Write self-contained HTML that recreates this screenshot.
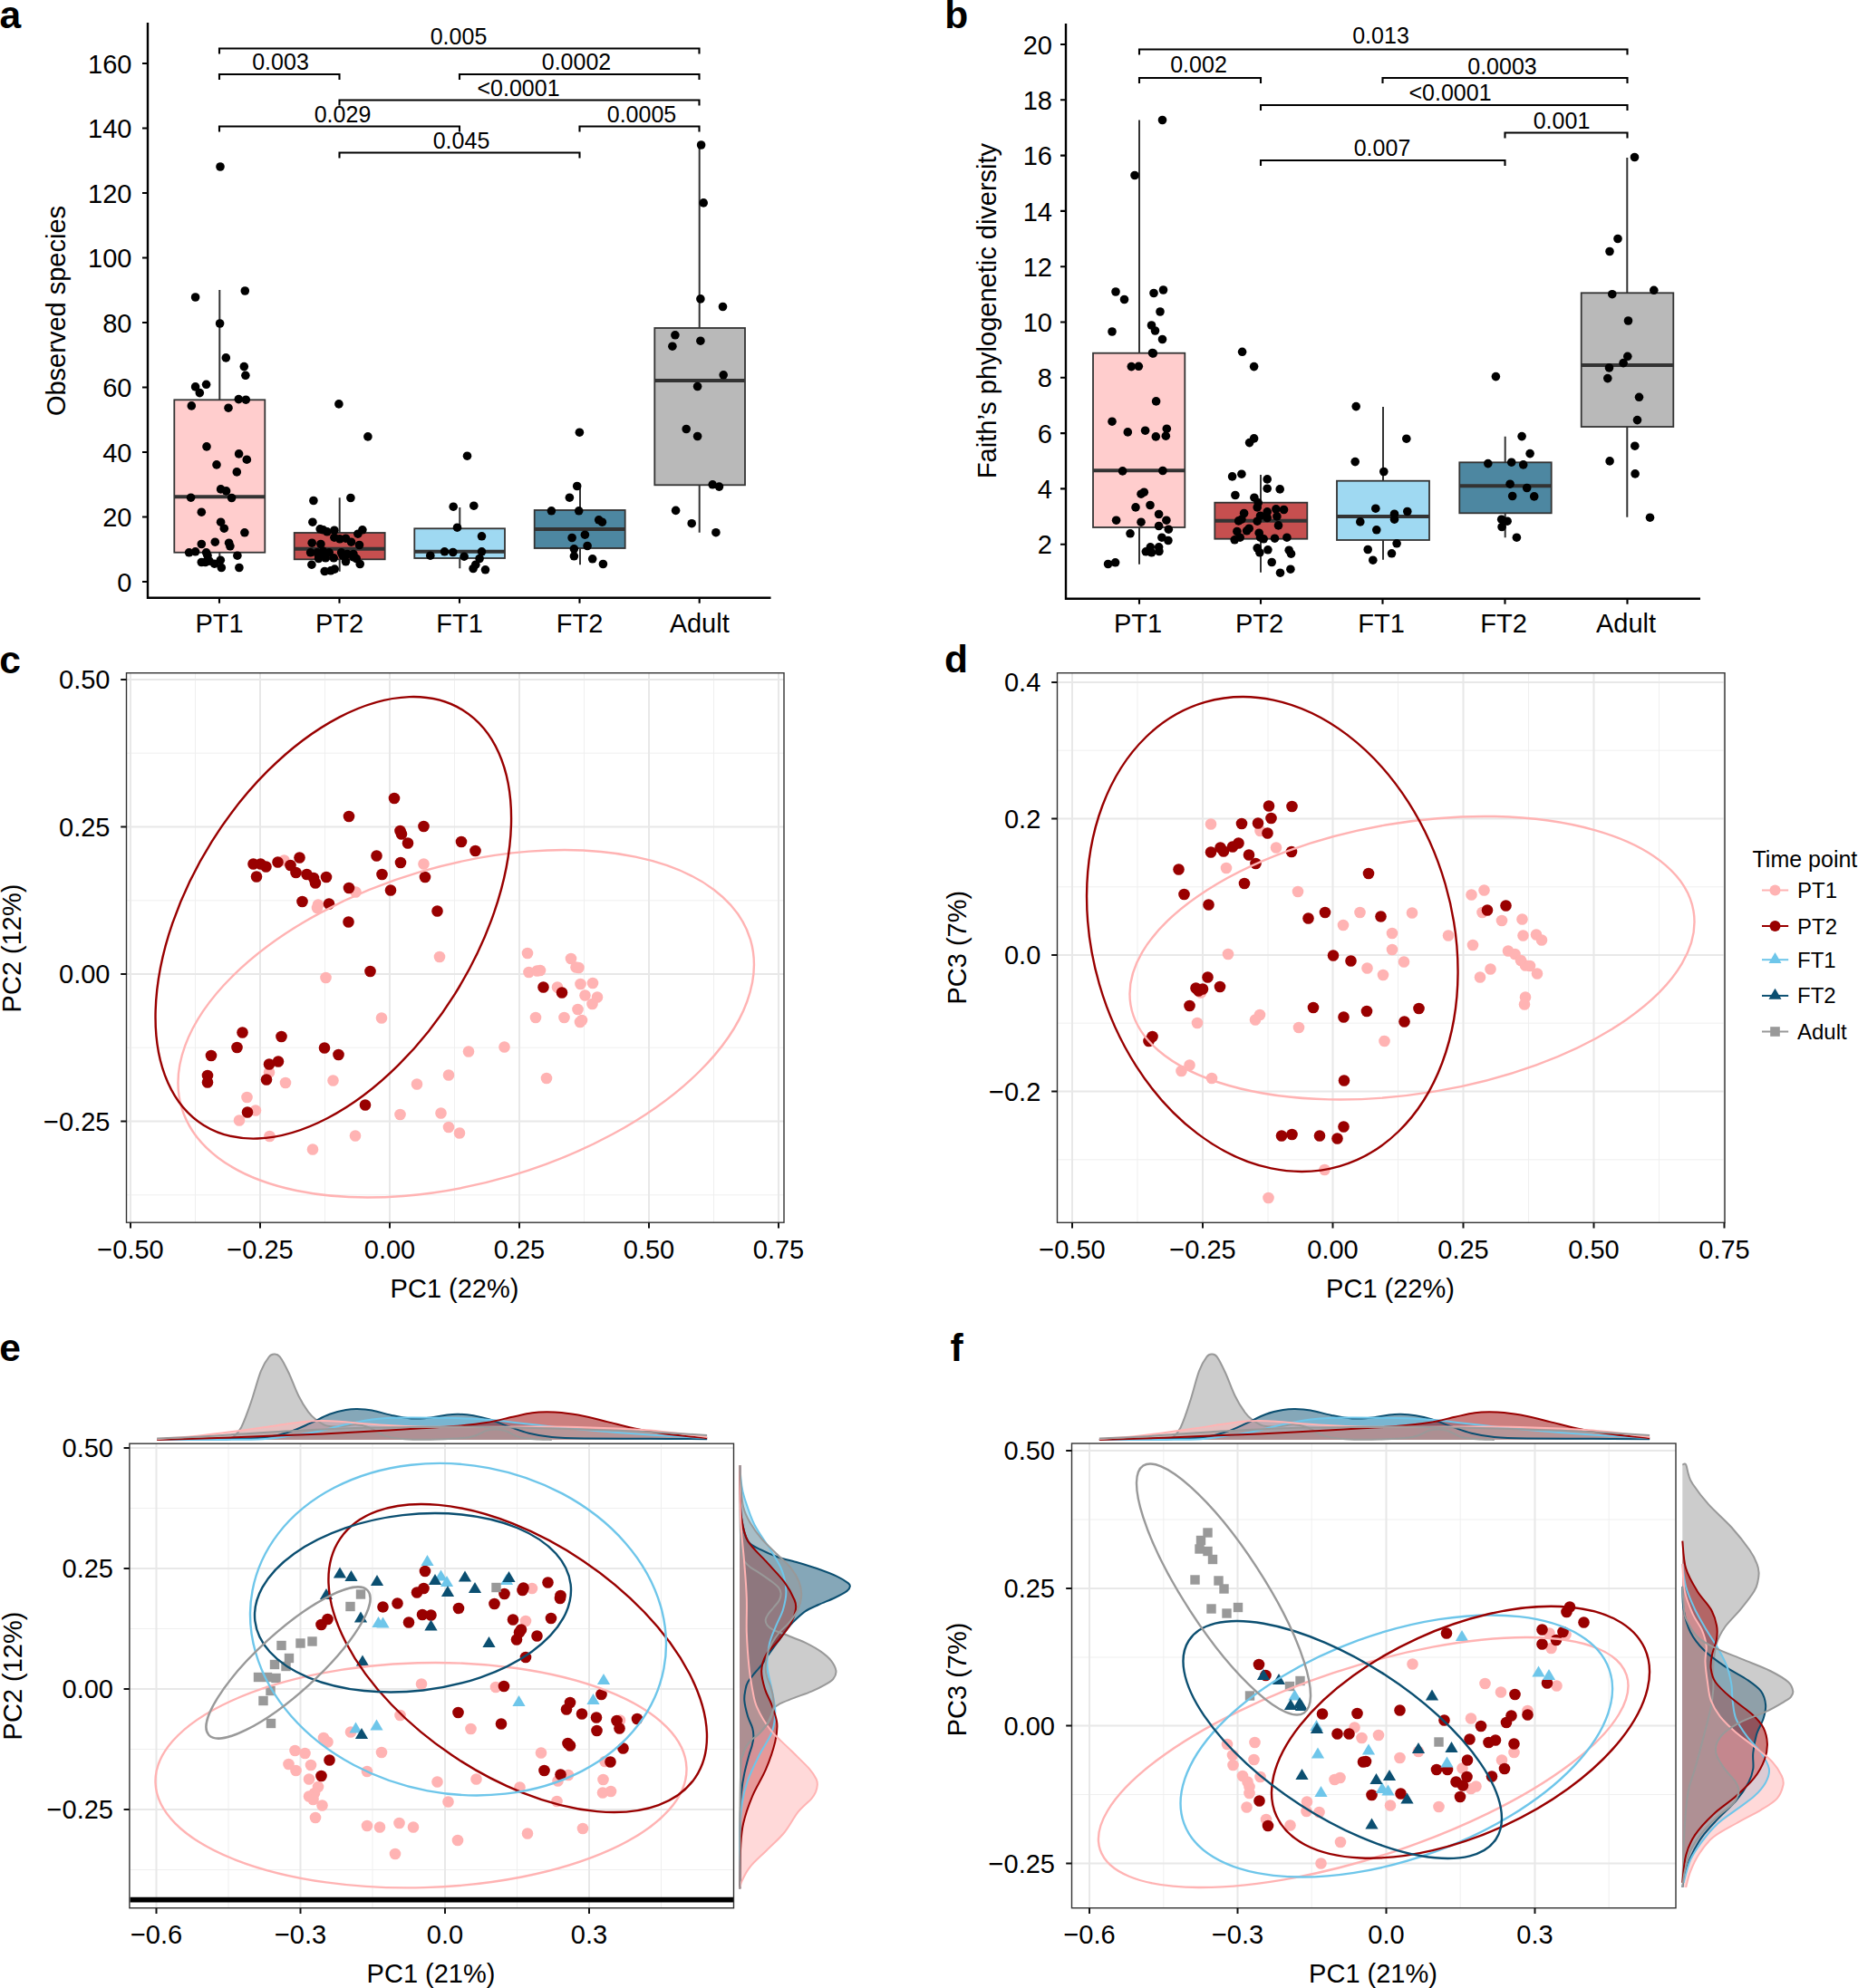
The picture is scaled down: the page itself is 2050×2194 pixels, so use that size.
<!DOCTYPE html>
<html lang="en"><head><meta charset="utf-8"><title>Figure</title>
<style>html,body{margin:0;padding:0;background:#fff}svg{display:block}text{font-family:"Liberation Sans", Arial, Helvetica, sans-serif}</style>
</head><body>
<svg width="2050" height="2194" viewBox="0 0 2050 2194" font-family='"Liberation Sans", Arial, Helvetica, sans-serif' fill="#000">
<text transform="translate(-0.5 31.3)" font-size="42.5" text-anchor="start" font-weight="bold">a</text>
<path d="M163 25V659.7H850.5" fill="none" stroke="#000" stroke-width="2.4"/>
<path d="M157 642H163M157 570.5H163M157 499H163M157 427.5H163M157 356H163M157 284.5H163M157 213H163M157 141.5H163M157 70H163M242 659.7V665.7M374.5 659.7V665.7M507 659.7V665.7M639.5 659.7V665.7M771.7 659.7V665.7" stroke="#000" stroke-width="2.1" fill="none"/>
<text transform="translate(145.5 652.6)" font-size="29" text-anchor="end">0</text>
<text transform="translate(145.5 581.1)" font-size="29" text-anchor="end">20</text>
<text transform="translate(145.5 509.6)" font-size="29" text-anchor="end">40</text>
<text transform="translate(145.5 438.1)" font-size="29" text-anchor="end">60</text>
<text transform="translate(145.5 366.6)" font-size="29" text-anchor="end">80</text>
<text transform="translate(145.5 295.1)" font-size="29" text-anchor="end">100</text>
<text transform="translate(145.5 223.6)" font-size="29" text-anchor="end">120</text>
<text transform="translate(145.5 152.1)" font-size="29" text-anchor="end">140</text>
<text transform="translate(145.5 80.6)" font-size="29" text-anchor="end">160</text>
<text transform="translate(242 698.3)" font-size="29" text-anchor="middle">PT1</text>
<text transform="translate(374.5 698.3)" font-size="29" text-anchor="middle">PT2</text>
<text transform="translate(507 698.3)" font-size="29" text-anchor="middle">FT1</text>
<text transform="translate(639.5 698.3)" font-size="29" text-anchor="middle">FT2</text>
<text transform="translate(771.7 698.3)" font-size="29" text-anchor="middle">Adult</text>
<text transform="translate(72 343) rotate(-90)" font-size="29" text-anchor="middle">Observed species</text>
<path d="M242.3 320V441.3M242.3 609.7V625" stroke="#333" stroke-width="2" fill="none"/>
<rect x="192.3" y="441.3" width="100" height="168.4" fill="#FFCDCD" stroke="#333" stroke-width="1.8"/>
<path d="M192.3 548.3H292.3" stroke="#333" stroke-width="4" fill="none"/>
<path d="M374.7 549.3V588M374.7 617.3V630.7" stroke="#333" stroke-width="2" fill="none"/>
<rect x="324.7" y="588" width="100" height="29.3" fill="#C64F4F" stroke="#333" stroke-width="1.8"/>
<path d="M324.7 605.7H424.7" stroke="#333" stroke-width="4" fill="none"/>
<path d="M507.3 560V583.3M507.3 616V627.3" stroke="#333" stroke-width="2" fill="none"/>
<rect x="457.3" y="583.3" width="99.7" height="32.7" fill="#9FD9F2" stroke="#333" stroke-width="1.8"/>
<path d="M457.3 608.7H557" stroke="#333" stroke-width="4" fill="none"/>
<path d="M640 536.7V563M640 605V623.3" stroke="#333" stroke-width="2" fill="none"/>
<rect x="589.7" y="563" width="100" height="42" fill="#4D87A1" stroke="#333" stroke-width="1.8"/>
<path d="M589.7 584H689.7" stroke="#333" stroke-width="4" fill="none"/>
<path d="M771.7 160V362M771.7 535.3V587.7" stroke="#333" stroke-width="2" fill="none"/>
<rect x="722.3" y="362" width="99.7" height="173.3" fill="#B9B9B9" stroke="#333" stroke-width="1.8"/>
<path d="M722.3 420H822" stroke="#333" stroke-width="4" fill="none"/>
<g fill="#000"><circle cx="215.6" cy="328" r="4.8"/><circle cx="270.3" cy="321" r="4.8"/><circle cx="242.6" cy="357" r="4.8"/><circle cx="249.3" cy="394.9" r="4.8"/><circle cx="269.3" cy="404.6" r="4.8"/><circle cx="270.9" cy="414.3" r="4.8"/><circle cx="215.6" cy="426.9" r="4.8"/><circle cx="227.6" cy="424.3" r="4.8"/><circle cx="220.3" cy="433.6" r="4.8"/><circle cx="263.3" cy="440.6" r="4.8"/><circle cx="271.3" cy="441.2" r="4.8"/><circle cx="211.3" cy="447.9" r="4.8"/><circle cx="252" cy="450.2" r="4.8"/><circle cx="228" cy="492.9" r="4.8"/><circle cx="263.6" cy="500.9" r="4.8"/><circle cx="272.3" cy="507.2" r="4.8"/><circle cx="239" cy="512.9" r="4.8"/><circle cx="261.3" cy="520.9" r="4.8"/><circle cx="243.6" cy="539.9" r="4.8"/><circle cx="249.6" cy="541.9" r="4.8"/><circle cx="210.6" cy="549.2" r="4.8"/><circle cx="255.6" cy="549.5" r="4.8"/><circle cx="222.3" cy="565.2" r="4.8"/><circle cx="243.6" cy="576.2" r="4.8"/><circle cx="247.3" cy="583.2" r="4.8"/><circle cx="269.9" cy="587.8" r="4.8"/><circle cx="237.3" cy="598.2" r="4.8"/><circle cx="222.3" cy="600.5" r="4.8"/><circle cx="252.6" cy="599.2" r="4.8"/><circle cx="253.9" cy="602.8" r="4.8"/><circle cx="208.6" cy="609.8" r="4.8"/><circle cx="215.6" cy="608.8" r="4.8"/><circle cx="227.6" cy="609.8" r="4.8"/><circle cx="229" cy="613.2" r="4.8"/><circle cx="261.9" cy="613.2" r="4.8"/><circle cx="222.3" cy="620.5" r="4.8"/><circle cx="226.6" cy="620.5" r="4.8"/><circle cx="231" cy="619.2" r="4.8"/><circle cx="236.6" cy="622.2" r="4.8"/><circle cx="243.3" cy="618.2" r="4.8"/><circle cx="244.3" cy="626.5" r="4.8"/><circle cx="263.9" cy="626.5" r="4.8"/><circle cx="243" cy="184" r="4.8"/><circle cx="373.9" cy="445.9" r="4.8"/><circle cx="405.9" cy="481.9" r="4.8"/><circle cx="386.9" cy="549.5" r="4.8"/><circle cx="345.9" cy="552.5" r="4.8"/><circle cx="344.9" cy="576.2" r="4.8"/><circle cx="353.2" cy="583.8" r="4.8"/><circle cx="356.6" cy="584.8" r="4.8"/><circle cx="360.9" cy="586.8" r="4.8"/><circle cx="368.9" cy="585.2" r="4.8"/><circle cx="399.9" cy="584.8" r="4.8"/><circle cx="394.9" cy="589.2" r="4.8"/><circle cx="368.9" cy="593.2" r="4.8"/><circle cx="374.9" cy="594.8" r="4.8"/><circle cx="381.5" cy="594.2" r="4.8"/><circle cx="387.5" cy="598.2" r="4.8"/><circle cx="344.2" cy="599.2" r="4.8"/><circle cx="353.9" cy="600.5" r="4.8"/><circle cx="396.5" cy="601.5" r="4.8"/><circle cx="342.6" cy="609.8" r="4.8"/><circle cx="349.9" cy="609.8" r="4.8"/><circle cx="356.6" cy="608.2" r="4.8"/><circle cx="363.2" cy="609.8" r="4.8"/><circle cx="376.6" cy="609.8" r="4.8"/><circle cx="383.2" cy="611.5" r="4.8"/><circle cx="389.9" cy="611.5" r="4.8"/><circle cx="351.6" cy="616.5" r="4.8"/><circle cx="359.2" cy="615.8" r="4.8"/><circle cx="368.2" cy="615.8" r="4.8"/><circle cx="381.5" cy="619.8" r="4.8"/><circle cx="393.2" cy="616.5" r="4.8"/><circle cx="397.2" cy="622.5" r="4.8"/><circle cx="343.9" cy="623.2" r="4.8"/><circle cx="358.2" cy="630.5" r="4.8"/><circle cx="364.9" cy="629.8" r="4.8"/><circle cx="369.2" cy="628.1" r="4.8"/><circle cx="351.6" cy="613.2" r="4.8"/><circle cx="378.2" cy="613.2" r="4.8"/><circle cx="389.9" cy="614.8" r="4.8"/><circle cx="515.5" cy="503.2" r="4.8"/><circle cx="500.2" cy="559.2" r="4.8"/><circle cx="522.8" cy="558.2" r="4.8"/><circle cx="504.5" cy="582.2" r="4.8"/><circle cx="531.5" cy="591.8" r="4.8"/><circle cx="490.5" cy="608.8" r="4.8"/><circle cx="499.8" cy="609.5" r="4.8"/><circle cx="474.8" cy="613.2" r="4.8"/><circle cx="512.1" cy="614.2" r="4.8"/><circle cx="531.5" cy="608.8" r="4.8"/><circle cx="529.1" cy="616.5" r="4.8"/><circle cx="524.8" cy="623.2" r="4.8"/><circle cx="522.1" cy="627.5" r="4.8"/><circle cx="535.5" cy="628.8" r="4.8"/><circle cx="639.4" cy="477.2" r="4.8"/><circle cx="636.7" cy="536.5" r="4.8"/><circle cx="628.4" cy="549.2" r="4.8"/><circle cx="608.4" cy="563.8" r="4.8"/><circle cx="638.7" cy="563.8" r="4.8"/><circle cx="660.7" cy="573.8" r="4.8"/><circle cx="664.4" cy="576.2" r="4.8"/><circle cx="631.1" cy="593.5" r="4.8"/><circle cx="645.4" cy="590.2" r="4.8"/><circle cx="648.1" cy="602.5" r="4.8"/><circle cx="633.4" cy="605.8" r="4.8"/><circle cx="633.4" cy="613.8" r="4.8"/><circle cx="653.7" cy="616.8" r="4.8"/><circle cx="665.4" cy="622.5" r="4.8"/><circle cx="773.6" cy="160" r="4.8"/><circle cx="776.2" cy="223.9" r="4.8"/><circle cx="772.9" cy="329.9" r="4.8"/><circle cx="797.5" cy="338.5" r="4.8"/><circle cx="744.9" cy="369.8" r="4.8"/><circle cx="741.9" cy="382.2" r="4.8"/><circle cx="772.9" cy="376.2" r="4.8"/><circle cx="798.2" cy="413.8" r="4.8"/><circle cx="769.6" cy="426.5" r="4.8"/><circle cx="757.2" cy="473.5" r="4.8"/><circle cx="769.6" cy="481.5" r="4.8"/><circle cx="786.2" cy="534.8" r="4.8"/><circle cx="793.5" cy="537.1" r="4.8"/><circle cx="745.6" cy="563.4" r="4.8"/><circle cx="763.2" cy="577.7" r="4.8"/><circle cx="789.9" cy="587.7" r="4.8"/></g>
<path d="M242 59.5V53.5H771.5V59.5M242 88V82H374.5V88M507 88V82H771.5V88M374.5 116.5V110.5H771.5V116.5M242 145.5V139.5H507V145.5M639.5 145.5V139.5H771.5V145.5M374.5 174.5V168.5H639.5V174.5" stroke="#000" stroke-width="2.1" fill="none"/>
<text transform="translate(506 48.5)" font-size="25" text-anchor="middle">0.005</text>
<text transform="translate(309.5 77)" font-size="25" text-anchor="middle">0.003</text>
<text transform="translate(636 77)" font-size="25" text-anchor="middle">0.0002</text>
<text transform="translate(572 105.5)" font-size="25" text-anchor="middle">&lt;0.0001</text>
<text transform="translate(378 134.5)" font-size="25" text-anchor="middle">0.029</text>
<text transform="translate(708 134.5)" font-size="25" text-anchor="middle">0.0005</text>
<text transform="translate(509 163.5)" font-size="25" text-anchor="middle">0.045</text>
<text transform="translate(1042.2 31.3)" font-size="42.5" text-anchor="start" font-weight="bold">b</text>
<path d="M1176 26V660.7H1876" fill="none" stroke="#000" stroke-width="2.4"/>
<path d="M1170 600.7H1176M1170 539.4H1176M1170 478.1H1176M1170 416.8H1176M1170 355.5H1176M1170 294.2H1176M1170 232.9H1176M1170 171.6H1176M1170 110.3H1176M1170 49H1176M1257 660.7V666.7M1391 660.7V666.7M1525.5 660.7V666.7M1660.5 660.7V666.7M1795.5 660.7V666.7" stroke="#000" stroke-width="2.1" fill="none"/>
<text transform="translate(1161 611.3)" font-size="29" text-anchor="end">2</text>
<text transform="translate(1161 550)" font-size="29" text-anchor="end">4</text>
<text transform="translate(1161 488.7)" font-size="29" text-anchor="end">6</text>
<text transform="translate(1161 427.4)" font-size="29" text-anchor="end">8</text>
<text transform="translate(1161 366.1)" font-size="29" text-anchor="end">10</text>
<text transform="translate(1161 304.8)" font-size="29" text-anchor="end">12</text>
<text transform="translate(1161 243.5)" font-size="29" text-anchor="end">14</text>
<text transform="translate(1161 182.2)" font-size="29" text-anchor="end">16</text>
<text transform="translate(1161 120.9)" font-size="29" text-anchor="end">18</text>
<text transform="translate(1161 59.6)" font-size="29" text-anchor="end">20</text>
<text transform="translate(1255.5 698.3)" font-size="29" text-anchor="middle">PT1</text>
<text transform="translate(1389.5 698.3)" font-size="29" text-anchor="middle">PT2</text>
<text transform="translate(1524 698.3)" font-size="29" text-anchor="middle">FT1</text>
<text transform="translate(1659 698.3)" font-size="29" text-anchor="middle">FT2</text>
<text transform="translate(1794 698.3)" font-size="29" text-anchor="middle">Adult</text>
<text transform="translate(1098.5 343) rotate(-90)" font-size="29" text-anchor="middle">Faith’s phylogenetic diversity</text>
<path d="M1257 132.5V389.7M1257 582V622.7" stroke="#333" stroke-width="2" fill="none"/>
<rect x="1206" y="389.7" width="101.3" height="192.3" fill="#FFCDCD" stroke="#333" stroke-width="1.8"/>
<path d="M1206 519.3H1307.3" stroke="#333" stroke-width="4" fill="none"/>
<path d="M1391 524V554.7M1391 594.7V631.7" stroke="#333" stroke-width="2" fill="none"/>
<rect x="1340.3" y="554.7" width="102" height="40" fill="#C64F4F" stroke="#333" stroke-width="1.8"/>
<path d="M1340.3 574.7H1442.3" stroke="#333" stroke-width="4" fill="none"/>
<path d="M1526 449V530.7M1526 596V617.7" stroke="#333" stroke-width="2" fill="none"/>
<rect x="1475" y="530.7" width="102" height="65.3" fill="#9FD9F2" stroke="#333" stroke-width="1.8"/>
<path d="M1475 570H1577" stroke="#333" stroke-width="4" fill="none"/>
<path d="M1660.7 481.7V510.3M1660.7 566.3V593.3" stroke="#333" stroke-width="2" fill="none"/>
<rect x="1610.3" y="510.3" width="101.4" height="56" fill="#4D87A1" stroke="#333" stroke-width="1.8"/>
<path d="M1610.3 536.3H1711.7" stroke="#333" stroke-width="4" fill="none"/>
<path d="M1795.3 174V323.3M1795.3 471V570.7" stroke="#333" stroke-width="2" fill="none"/>
<rect x="1744.7" y="323.3" width="101.6" height="147.7" fill="#B9B9B9" stroke="#333" stroke-width="1.8"/>
<path d="M1744.7 403H1846.3" stroke="#333" stroke-width="4" fill="none"/>
<g fill="#000"><circle cx="1282.5" cy="132.5" r="4.8"/><circle cx="1252" cy="193.5" r="4.8"/><circle cx="1231" cy="322" r="4.8"/><circle cx="1240.5" cy="330.5" r="4.8"/><circle cx="1273" cy="323.5" r="4.8"/><circle cx="1283.5" cy="320" r="4.8"/><circle cx="1280" cy="344" r="4.8"/><circle cx="1270.5" cy="359" r="4.8"/><circle cx="1274.5" cy="365" r="4.8"/><circle cx="1227" cy="366" r="4.8"/><circle cx="1282.5" cy="374.5" r="4.8"/><circle cx="1271.5" cy="389.5" r="4.8"/><circle cx="1272.3" cy="390" r="4.8"/><circle cx="1248.3" cy="404.6" r="4.8"/><circle cx="1256.3" cy="404.3" r="4.8"/><circle cx="1275.6" cy="442.9" r="4.8"/><circle cx="1227" cy="465.2" r="4.8"/><circle cx="1244.3" cy="476.9" r="4.8"/><circle cx="1263.6" cy="475.2" r="4.8"/><circle cx="1287.3" cy="473.2" r="4.8"/><circle cx="1275.3" cy="481.9" r="4.8"/><circle cx="1286.3" cy="481.2" r="4.8"/><circle cx="1238.6" cy="519.9" r="4.8"/><circle cx="1282.9" cy="519.5" r="4.8"/><circle cx="1262.3" cy="543.2" r="4.8"/><circle cx="1259" cy="545.2" r="4.8"/><circle cx="1253" cy="559.9" r="4.8"/><circle cx="1269" cy="557.5" r="4.8"/><circle cx="1278.6" cy="567.5" r="4.8"/><circle cx="1231.6" cy="574.2" r="4.8"/><circle cx="1259" cy="576.2" r="4.8"/><circle cx="1286.9" cy="574.2" r="4.8"/><circle cx="1278.6" cy="580.5" r="4.8"/><circle cx="1289.3" cy="584.2" r="4.8"/><circle cx="1247" cy="588.8" r="4.8"/><circle cx="1281.9" cy="593.2" r="4.8"/><circle cx="1288.9" cy="596.5" r="4.8"/><circle cx="1269.3" cy="603.8" r="4.8"/><circle cx="1278.6" cy="603.8" r="4.8"/><circle cx="1264.3" cy="608.8" r="4.8"/><circle cx="1270.6" cy="609.8" r="4.8"/><circle cx="1278.9" cy="608.5" r="4.8"/><circle cx="1222.6" cy="622.5" r="4.8"/><circle cx="1230.6" cy="620.8" r="4.8"/><circle cx="1370.6" cy="388.3" r="4.8"/><circle cx="1383.6" cy="404.6" r="4.8"/><circle cx="1383.6" cy="483.9" r="4.8"/><circle cx="1378.6" cy="488.6" r="4.8"/><circle cx="1359.6" cy="525.9" r="4.8"/><circle cx="1369.9" cy="523.2" r="4.8"/><circle cx="1398.2" cy="528.9" r="4.8"/><circle cx="1398.2" cy="539.2" r="4.8"/><circle cx="1412.2" cy="539.9" r="4.8"/><circle cx="1362.9" cy="546.5" r="4.8"/><circle cx="1383.9" cy="549.2" r="4.8"/><circle cx="1388.2" cy="554.9" r="4.8"/><circle cx="1387.2" cy="559.9" r="4.8"/><circle cx="1407.9" cy="561.9" r="4.8"/><circle cx="1416.5" cy="562.5" r="4.8"/><circle cx="1398.2" cy="564.9" r="4.8"/><circle cx="1372.6" cy="566.5" r="4.8"/><circle cx="1390.6" cy="569.2" r="4.8"/><circle cx="1408.9" cy="569.9" r="4.8"/><circle cx="1369.9" cy="573.2" r="4.8"/><circle cx="1366.6" cy="574.9" r="4.8"/><circle cx="1387.2" cy="575.2" r="4.8"/><circle cx="1398.2" cy="571.5" r="4.8"/><circle cx="1410.5" cy="579.9" r="4.8"/><circle cx="1378.2" cy="583.2" r="4.8"/><circle cx="1375.6" cy="585.8" r="4.8"/><circle cx="1364.9" cy="586.5" r="4.8"/><circle cx="1389.2" cy="588.2" r="4.8"/><circle cx="1368.2" cy="593.2" r="4.8"/><circle cx="1362.2" cy="595.8" r="4.8"/><circle cx="1390.6" cy="593.2" r="4.8"/><circle cx="1394.2" cy="594.8" r="4.8"/><circle cx="1406.5" cy="594.2" r="4.8"/><circle cx="1419.9" cy="593.2" r="4.8"/><circle cx="1387.2" cy="604.8" r="4.8"/><circle cx="1389.9" cy="609.8" r="4.8"/><circle cx="1398.9" cy="606.8" r="4.8"/><circle cx="1422.2" cy="607.2" r="4.8"/><circle cx="1424.5" cy="611.2" r="4.8"/><circle cx="1403.2" cy="620.5" r="4.8"/><circle cx="1423.9" cy="628.2" r="4.8"/><circle cx="1412.5" cy="632.2" r="4.8"/><circle cx="1496.2" cy="448.6" r="4.8"/><circle cx="1551.8" cy="484.2" r="4.8"/><circle cx="1495.2" cy="509.6" r="4.8"/><circle cx="1526.8" cy="520.5" r="4.8"/><circle cx="1517.8" cy="561.2" r="4.8"/><circle cx="1538.5" cy="567.2" r="4.8"/><circle cx="1552.8" cy="564.5" r="4.8"/><circle cx="1538.5" cy="573.2" r="4.8"/><circle cx="1500.8" cy="575.9" r="4.8"/><circle cx="1518.8" cy="584.8" r="4.8"/><circle cx="1541.1" cy="599.8" r="4.8"/><circle cx="1509.2" cy="606.5" r="4.8"/><circle cx="1535.5" cy="610.8" r="4.8"/><circle cx="1514.8" cy="618.2" r="4.8"/><circle cx="1650.4" cy="415.6" r="4.8"/><circle cx="1679.1" cy="481.6" r="4.8"/><circle cx="1688.1" cy="500.6" r="4.8"/><circle cx="1641.8" cy="511.6" r="4.8"/><circle cx="1667.7" cy="510.2" r="4.8"/><circle cx="1680.7" cy="512.9" r="4.8"/><circle cx="1666.1" cy="534.2" r="4.8"/><circle cx="1684.7" cy="538.5" r="4.8"/><circle cx="1668.7" cy="547.5" r="4.8"/><circle cx="1692.7" cy="547.9" r="4.8"/><circle cx="1656.7" cy="573.2" r="4.8"/><circle cx="1663.1" cy="575.2" r="4.8"/><circle cx="1657.1" cy="581.5" r="4.8"/><circle cx="1673.4" cy="593.2" r="4.8"/><circle cx="1803.5" cy="173.5" r="4.8"/><circle cx="1785" cy="263.5" r="4.8"/><circle cx="1776" cy="277.5" r="4.8"/><circle cx="1778.8" cy="324.7" r="4.8"/><circle cx="1824.8" cy="320.3" r="4.8"/><circle cx="1796.5" cy="354" r="4.8"/><circle cx="1795.8" cy="393.3" r="4.8"/><circle cx="1791.1" cy="400.6" r="4.8"/><circle cx="1775.5" cy="405.9" r="4.8"/><circle cx="1773.8" cy="417.6" r="4.8"/><circle cx="1808.5" cy="438.3" r="4.8"/><circle cx="1806.5" cy="463.6" r="4.8"/><circle cx="1803.8" cy="492.2" r="4.8"/><circle cx="1776.1" cy="508.9" r="4.8"/><circle cx="1804.1" cy="522.9" r="4.8"/><circle cx="1820.5" cy="571.2" r="4.8"/></g>
<path d="M1257 60.5V54.5H1795.5V60.5M1257 92V86H1391V92M1525.5 92V86H1795.5V92M1391 122V116H1795.5V122M1660.5 152.5V146.5H1795.5V152.5M1391 183V177H1660.5V183" stroke="#000" stroke-width="2.1" fill="none"/>
<text transform="translate(1523.5 48)" font-size="25" text-anchor="middle">0.013</text>
<text transform="translate(1322.5 80)" font-size="25" text-anchor="middle">0.002</text>
<text transform="translate(1657.5 81.5)" font-size="25" text-anchor="middle">0.0003</text>
<text transform="translate(1600 111)" font-size="25" text-anchor="middle">&lt;0.0001</text>
<text transform="translate(1723 142)" font-size="25" text-anchor="middle">0.001</text>
<text transform="translate(1525 172)" font-size="25" text-anchor="middle">0.007</text>
<text transform="translate(-0.7 742.6)" font-size="42.5" text-anchor="start" font-weight="bold">c</text>
<path d="M215.5 742.7V1349.2M358.5 742.7V1349.2M501.5 742.7V1349.2M644.5 742.7V1349.2M787.5 742.7V1349.2M139.5 831.2H865M139.5 993.8H865M139.5 1156.2H865M139.5 1318.8H865" stroke="#EFEFEF" stroke-width="1" fill="none"/>
<path d="M144 742.7V1349.2M287 742.7V1349.2M430 742.7V1349.2M573 742.7V1349.2M716 742.7V1349.2M859 742.7V1349.2M139.5 750H865M139.5 912.5H865M139.5 1075H865M139.5 1237.5H865" stroke="#E8E8E8" stroke-width="2" fill="none"/>
<g fill="#FFB3B3"><circle cx="313.5" cy="949.5" r="6.3"/><circle cx="467.5" cy="953.5" r="6.3"/><circle cx="392.5" cy="984.5" r="6.3"/><circle cx="351" cy="998.5" r="6.3"/><circle cx="350" cy="1002" r="6.3"/><circle cx="485" cy="1056" r="6.3"/><circle cx="359.5" cy="1079" r="6.3"/><circle cx="582" cy="1052" r="6.3"/><circle cx="630" cy="1058" r="6.3"/><circle cx="583.5" cy="1073" r="6.3"/><circle cx="592.5" cy="1071.5" r="6.3"/><circle cx="596" cy="1071" r="6.3"/><circle cx="635.5" cy="1067.5" r="6.3"/><circle cx="638.5" cy="1068" r="6.3"/><circle cx="615" cy="1089.5" r="6.3"/><circle cx="640.5" cy="1086" r="6.3"/><circle cx="654" cy="1085" r="6.3"/><circle cx="645.5" cy="1098.5" r="6.3"/><circle cx="659" cy="1100.5" r="6.3"/><circle cx="637.5" cy="1114" r="6.3"/><circle cx="653.5" cy="1108" r="6.3"/><circle cx="591" cy="1123" r="6.3"/><circle cx="622.5" cy="1123" r="6.3"/><circle cx="640" cy="1128" r="6.3"/><circle cx="642" cy="1126" r="6.3"/><circle cx="421" cy="1123.5" r="6.3"/><circle cx="556.5" cy="1155.5" r="6.3"/><circle cx="517" cy="1160.5" r="6.3"/><circle cx="495" cy="1186.5" r="6.3"/><circle cx="603" cy="1190" r="6.3"/><circle cx="297" cy="1183.5" r="6.3"/><circle cx="315" cy="1195" r="6.3"/><circle cx="367.5" cy="1192.5" r="6.3"/><circle cx="460" cy="1196.5" r="6.3"/><circle cx="272.5" cy="1211" r="6.3"/><circle cx="282" cy="1225.5" r="6.3"/><circle cx="264" cy="1236.5" r="6.3"/><circle cx="441.5" cy="1230" r="6.3"/><circle cx="486.5" cy="1228.5" r="6.3"/><circle cx="495" cy="1244" r="6.3"/><circle cx="507" cy="1250.5" r="6.3"/><circle cx="297.5" cy="1254" r="6.3"/><circle cx="392" cy="1253.5" r="6.3"/><circle cx="345" cy="1268.5" r="6.3"/></g>
<g fill="#990000"><circle cx="435" cy="881" r="6.3"/><circle cx="385" cy="901" r="6.3"/><circle cx="467.5" cy="912" r="6.3"/><circle cx="441.5" cy="917" r="6.3"/><circle cx="443" cy="920.5" r="6.3"/><circle cx="450" cy="930.5" r="6.3"/><circle cx="509" cy="929" r="6.3"/><circle cx="524.5" cy="939" r="6.3"/><circle cx="415.5" cy="944.5" r="6.3"/><circle cx="330.5" cy="946.5" r="6.3"/><circle cx="442" cy="952" r="6.3"/><circle cx="279.5" cy="953.5" r="6.3"/><circle cx="287.5" cy="953.5" r="6.3"/><circle cx="293.5" cy="956.5" r="6.3"/><circle cx="306.5" cy="951.5" r="6.3"/><circle cx="320.5" cy="955" r="6.3"/><circle cx="326.5" cy="963" r="6.3"/><circle cx="338.5" cy="965" r="6.3"/><circle cx="346" cy="969" r="6.3"/><circle cx="348" cy="974.5" r="6.3"/><circle cx="360" cy="968" r="6.3"/><circle cx="283" cy="967.5" r="6.3"/><circle cx="421.5" cy="965" r="6.3"/><circle cx="469" cy="968" r="6.3"/><circle cx="385" cy="980" r="6.3"/><circle cx="431" cy="982.5" r="6.3"/><circle cx="333.5" cy="995" r="6.3"/><circle cx="363" cy="997.5" r="6.3"/><circle cx="482.5" cy="1005.5" r="6.3"/><circle cx="384.5" cy="1017.5" r="6.3"/><circle cx="408.5" cy="1072" r="6.3"/><circle cx="599.5" cy="1089.5" r="6.3"/><circle cx="620" cy="1095.5" r="6.3"/><circle cx="267.5" cy="1139.5" r="6.3"/><circle cx="310.5" cy="1144" r="6.3"/><circle cx="261.5" cy="1156" r="6.3"/><circle cx="358" cy="1156.5" r="6.3"/><circle cx="373.5" cy="1164" r="6.3"/><circle cx="233" cy="1165" r="6.3"/><circle cx="307" cy="1171.5" r="6.3"/><circle cx="297" cy="1174.5" r="6.3"/><circle cx="229" cy="1187" r="6.3"/><circle cx="229" cy="1194.5" r="6.3"/><circle cx="294" cy="1191.5" r="6.3"/><circle cx="273" cy="1227.5" r="6.3"/><circle cx="403" cy="1219.5" r="6.3"/></g>
<ellipse cx="514.2" cy="1129.8" rx="327.2" ry="175.0" transform="rotate(163.56 514.2 1129.8)" fill="none" stroke="#FFB3B3" stroke-width="2.4"/>
<ellipse cx="367.8" cy="1012.8" rx="270.0" ry="158.3" transform="rotate(122.04 367.8 1012.8)" fill="none" stroke="#990000" stroke-width="2.4"/>
<rect x="139.5" y="742.7" width="725.5" height="606.5" fill="none" stroke="#333" stroke-width="1.4"/>
<path d="M144 1349.2V1355.5M287 1349.2V1355.5M430 1349.2V1355.5M573 1349.2V1355.5M716 1349.2V1355.5M859 1349.2V1355.5M133.2 750H139.5M133.2 912.5H139.5M133.2 1075H139.5M133.2 1237.5H139.5" stroke="#111" stroke-width="2" fill="none"/>
<text transform="translate(144 1389)" font-size="29" text-anchor="middle">−0.50</text>
<text transform="translate(287 1389)" font-size="29" text-anchor="middle">−0.25</text>
<text transform="translate(430 1389)" font-size="29" text-anchor="middle">0.00</text>
<text transform="translate(573 1389)" font-size="29" text-anchor="middle">0.25</text>
<text transform="translate(716 1389)" font-size="29" text-anchor="middle">0.50</text>
<text transform="translate(859 1389)" font-size="29" text-anchor="middle">0.75</text>
<text transform="translate(121.5 760.3)" font-size="29" text-anchor="end">0.50</text>
<text transform="translate(121.5 922.8)" font-size="29" text-anchor="end">0.25</text>
<text transform="translate(121.5 1085.3)" font-size="29" text-anchor="end">0.00</text>
<text transform="translate(121.5 1247.8)" font-size="29" text-anchor="end">−0.25</text>
<text transform="translate(501.5 1431.5)" font-size="29" text-anchor="middle">PC1 (22%)</text>
<text transform="translate(22.5 1046.5) rotate(-90)" font-size="29" text-anchor="middle">PC2 (12%)</text>
<text transform="translate(1041.9 741.7)" font-size="42.5" text-anchor="start" font-weight="bold">d</text>
<path d="M1255 742.7V1349.3M1399 742.7V1349.3M1542.5 742.7V1349.3M1686.5 742.7V1349.3M1830.5 742.7V1349.3M1166.5 828.2H1903M1166.5 978.8H1903M1166.5 1129.2H1903M1166.5 1279.8H1903" stroke="#EFEFEF" stroke-width="1" fill="none"/>
<path d="M1183 742.7V1349.3M1327 742.7V1349.3M1470.5 742.7V1349.3M1614.5 742.7V1349.3M1758.5 742.7V1349.3M1902.5 742.7V1349.3M1166.5 753H1903M1166.5 903.5H1903M1166.5 1054H1903M1166.5 1204.5H1903" stroke="#E8E8E8" stroke-width="2" fill="none"/>
<g fill="#FFB3B3"><circle cx="1336" cy="909.5" r="6.3"/><circle cx="1390.5" cy="917" r="6.3"/><circle cx="1408" cy="935.5" r="6.3"/><circle cx="1353" cy="958" r="6.3"/><circle cx="1432" cy="984" r="6.3"/><circle cx="1623.5" cy="987.5" r="6.3"/><circle cx="1637.5" cy="982.5" r="6.3"/><circle cx="1500.5" cy="1007" r="6.3"/><circle cx="1558" cy="1007.5" r="6.3"/><circle cx="1635.5" cy="1007" r="6.3"/><circle cx="1657" cy="1016" r="6.3"/><circle cx="1679.5" cy="1014.5" r="6.3"/><circle cx="1482" cy="1021" r="6.3"/><circle cx="1536" cy="1030" r="6.3"/><circle cx="1598" cy="1032.5" r="6.3"/><circle cx="1680.5" cy="1032.5" r="6.3"/><circle cx="1695" cy="1031.5" r="6.3"/><circle cx="1701" cy="1037.5" r="6.3"/><circle cx="1625" cy="1043" r="6.3"/><circle cx="1536" cy="1048" r="6.3"/><circle cx="1664" cy="1049.5" r="6.3"/><circle cx="1671.5" cy="1053" r="6.3"/><circle cx="1678" cy="1060" r="6.3"/><circle cx="1549" cy="1061.5" r="6.3"/><circle cx="1355" cy="1053" r="6.3"/><circle cx="1508.5" cy="1068.5" r="6.3"/><circle cx="1683" cy="1065.5" r="6.3"/><circle cx="1688" cy="1066" r="6.3"/><circle cx="1644.5" cy="1069.5" r="6.3"/><circle cx="1696" cy="1074.5" r="6.3"/><circle cx="1526" cy="1076" r="6.3"/><circle cx="1633" cy="1078.5" r="6.3"/><circle cx="1325" cy="1095.5" r="6.3"/><circle cx="1683" cy="1100.5" r="6.3"/><circle cx="1682" cy="1108.5" r="6.3"/><circle cx="1390" cy="1120" r="6.3"/><circle cx="1385" cy="1125.5" r="6.3"/><circle cx="1321" cy="1129" r="6.3"/><circle cx="1433" cy="1134" r="6.3"/><circle cx="1527.5" cy="1149" r="6.3"/><circle cx="1312.5" cy="1175.5" r="6.3"/><circle cx="1303.5" cy="1182" r="6.3"/><circle cx="1337" cy="1190" r="6.3"/><circle cx="1461.5" cy="1291" r="6.3"/><circle cx="1399.5" cy="1322" r="6.3"/></g>
<g fill="#990000"><circle cx="1400" cy="889.5" r="6.3"/><circle cx="1425.5" cy="890" r="6.3"/><circle cx="1402.5" cy="903" r="6.3"/><circle cx="1370" cy="909" r="6.3"/><circle cx="1388" cy="908.5" r="6.3"/><circle cx="1398.5" cy="919.5" r="6.3"/><circle cx="1366.5" cy="930.5" r="6.3"/><circle cx="1360" cy="934.5" r="6.3"/><circle cx="1346.5" cy="935.5" r="6.3"/><circle cx="1350" cy="939.5" r="6.3"/><circle cx="1336" cy="940.5" r="6.3"/><circle cx="1378" cy="943.5" r="6.3"/><circle cx="1385.5" cy="953" r="6.3"/><circle cx="1425" cy="940" r="6.3"/><circle cx="1300.5" cy="959.5" r="6.3"/><circle cx="1510" cy="964" r="6.3"/><circle cx="1373" cy="975" r="6.3"/><circle cx="1306.5" cy="987" r="6.3"/><circle cx="1333.5" cy="998.5" r="6.3"/><circle cx="1462" cy="1007" r="6.3"/><circle cx="1443.5" cy="1013.5" r="6.3"/><circle cx="1523.5" cy="1011.5" r="6.3"/><circle cx="1641" cy="1004.5" r="6.3"/><circle cx="1661.5" cy="999.5" r="6.3"/><circle cx="1471" cy="1054.5" r="6.3"/><circle cx="1490.5" cy="1060.5" r="6.3"/><circle cx="1332.5" cy="1078.5" r="6.3"/><circle cx="1319.5" cy="1090.5" r="6.3"/><circle cx="1327" cy="1091.5" r="6.3"/><circle cx="1322.5" cy="1093.5" r="6.3"/><circle cx="1346" cy="1089" r="6.3"/><circle cx="1312.5" cy="1110" r="6.3"/><circle cx="1449" cy="1112" r="6.3"/><circle cx="1508" cy="1116" r="6.3"/><circle cx="1482.5" cy="1122.5" r="6.3"/><circle cx="1565.5" cy="1113" r="6.3"/><circle cx="1549.5" cy="1127.5" r="6.3"/><circle cx="1271.5" cy="1144" r="6.3"/><circle cx="1267.5" cy="1149" r="6.3"/><circle cx="1483" cy="1192.5" r="6.3"/><circle cx="1482.5" cy="1243.5" r="6.3"/><circle cx="1414" cy="1253.5" r="6.3"/><circle cx="1425.5" cy="1252" r="6.3"/><circle cx="1456" cy="1253.5" r="6.3"/><circle cx="1475.5" cy="1256.5" r="6.3"/></g>
<ellipse cx="1558" cy="1057.2" rx="314.8" ry="149.5" transform="rotate(170.56 1558 1057.2)" fill="none" stroke="#FFB3B3" stroke-width="2.4"/>
<ellipse cx="1403.8" cy="1031" rx="266.6" ry="198.7" transform="rotate(73.85 1403.8 1031)" fill="none" stroke="#990000" stroke-width="2.4"/>
<rect x="1166.5" y="742.7" width="736.5" height="606.6" fill="none" stroke="#333" stroke-width="1.4"/>
<path d="M1183 1349.3V1355.6M1327 1349.3V1355.6M1470.5 1349.3V1355.6M1614.5 1349.3V1355.6M1758.5 1349.3V1355.6M1902.5 1349.3V1355.6M1160.2 753H1166.5M1160.2 903.5H1166.5M1160.2 1054H1166.5M1160.2 1204.5H1166.5" stroke="#111" stroke-width="2" fill="none"/>
<text transform="translate(1183 1388.5)" font-size="29" text-anchor="middle">−0.50</text>
<text transform="translate(1327 1388.5)" font-size="29" text-anchor="middle">−0.25</text>
<text transform="translate(1470.5 1388.5)" font-size="29" text-anchor="middle">0.00</text>
<text transform="translate(1614.5 1388.5)" font-size="29" text-anchor="middle">0.25</text>
<text transform="translate(1758.5 1388.5)" font-size="29" text-anchor="middle">0.50</text>
<text transform="translate(1902.5 1388.5)" font-size="29" text-anchor="middle">0.75</text>
<text transform="translate(1148.3 763.3)" font-size="29" text-anchor="end">0.4</text>
<text transform="translate(1148.3 913.8)" font-size="29" text-anchor="end">0.2</text>
<text transform="translate(1148.3 1064.3)" font-size="29" text-anchor="end">0.0</text>
<text transform="translate(1148.3 1214.8)" font-size="29" text-anchor="end">−0.2</text>
<text transform="translate(1534 1431.5)" font-size="29" text-anchor="middle">PC1 (22%)</text>
<text transform="translate(1066 1045.7) rotate(-90)" font-size="29" text-anchor="middle">PC3 (7%)</text>
<text transform="translate(-0.7 1501.8)" font-size="42.5" text-anchor="start" font-weight="bold">e</text>
<path d="M252 1593.2V2105.7M411 1593.2V2105.7M570.5 1593.2V2105.7M729.5 1593.2V2105.7M142.9 1664.5H809.5M142.9 1797.5H809.5M142.9 1930.5H809.5M142.9 2063.5H809.5" stroke="#EFEFEF" stroke-width="1" fill="none"/>
<path d="M172.5 1593.2V2105.7M331.5 1593.2V2105.7M491 1593.2V2105.7M650 1593.2V2105.7M142.9 1598H809.5M142.9 1731H809.5M142.9 1864H809.5M142.9 1997H809.5" stroke="#E8E8E8" stroke-width="2" fill="none"/>
<g fill="#FFB3B3"><circle cx="587" cy="1753" r="6.3"/><circle cx="580" cy="1789" r="6.3"/><circle cx="465" cy="1858.5" r="6.3"/><circle cx="547" cy="1862" r="6.3"/><circle cx="441.5" cy="1893" r="6.3"/><circle cx="519.5" cy="1908" r="6.3"/><circle cx="684" cy="1898.5" r="6.3"/><circle cx="387" cy="1911.5" r="6.3"/><circle cx="357" cy="1918" r="6.3"/><circle cx="361.5" cy="1922.5" r="6.3"/><circle cx="325.5" cy="1932" r="6.3"/><circle cx="336.5" cy="1935" r="6.3"/><circle cx="421" cy="1934" r="6.3"/><circle cx="597" cy="1934.5" r="6.3"/><circle cx="318.5" cy="1947" r="6.3"/><circle cx="343" cy="1948" r="6.3"/><circle cx="326.5" cy="1954" r="6.3"/><circle cx="405" cy="1955" r="6.3"/><circle cx="627" cy="1959" r="6.3"/><circle cx="667.5" cy="1944" r="6.3"/><circle cx="341" cy="1963.5" r="6.3"/><circle cx="482.5" cy="1966.5" r="6.3"/><circle cx="525.5" cy="1963.5" r="6.3"/><circle cx="615.5" cy="1965.5" r="6.3"/><circle cx="665.5" cy="1964" r="6.3"/><circle cx="351" cy="1972" r="6.3"/><circle cx="573.5" cy="1972.5" r="6.3"/><circle cx="665" cy="1978.5" r="6.3"/><circle cx="674" cy="1977" r="6.3"/><circle cx="347" cy="1979" r="6.3"/><circle cx="341" cy="1982.5" r="6.3"/><circle cx="345.5" cy="1986" r="6.3"/><circle cx="494.5" cy="1988.5" r="6.3"/><circle cx="614.5" cy="1988" r="6.3"/><circle cx="355.5" cy="1992.5" r="6.3"/><circle cx="348" cy="2006" r="6.3"/><circle cx="405" cy="2015" r="6.3"/><circle cx="419" cy="2016.5" r="6.3"/><circle cx="440.5" cy="2012" r="6.3"/><circle cx="456" cy="2016.5" r="6.3"/><circle cx="582" cy="2023.5" r="6.3"/><circle cx="643" cy="2018" r="6.3"/><circle cx="505" cy="2031" r="6.3"/><circle cx="436" cy="2046" r="6.3"/></g>
<g fill="#990000"><circle cx="469" cy="1734" r="6.3"/><circle cx="604.5" cy="1746.5" r="6.3"/><circle cx="577.5" cy="1752.5" r="6.3"/><circle cx="576.5" cy="1755" r="6.3"/><circle cx="467.5" cy="1753" r="6.3"/><circle cx="460" cy="1757.5" r="6.3"/><circle cx="556.5" cy="1759" r="6.3"/><circle cx="618.5" cy="1761" r="6.3"/><circle cx="618" cy="1764" r="6.3"/><circle cx="438.5" cy="1769.5" r="6.3"/><circle cx="545.5" cy="1770" r="6.3"/><circle cx="422.5" cy="1773.5" r="6.3"/><circle cx="506" cy="1775" r="6.3"/><circle cx="466" cy="1782" r="6.3"/><circle cx="475.5" cy="1782.5" r="6.3"/><circle cx="608" cy="1786" r="6.3"/><circle cx="361.5" cy="1787" r="6.3"/><circle cx="566" cy="1787.5" r="6.3"/><circle cx="354.5" cy="1793" r="6.3"/><circle cx="451" cy="1790.5" r="6.3"/><circle cx="575" cy="1798.5" r="6.3"/><circle cx="573" cy="1801.5" r="6.3"/><circle cx="592.5" cy="1805.5" r="6.3"/><circle cx="570" cy="1809.5" r="6.3"/><circle cx="580" cy="1829" r="6.3"/><circle cx="556" cy="1861" r="6.3"/><circle cx="663.5" cy="1870" r="6.3"/><circle cx="629" cy="1879" r="6.3"/><circle cx="625" cy="1886.5" r="6.3"/><circle cx="505.5" cy="1890" r="6.3"/><circle cx="642" cy="1891.5" r="6.3"/><circle cx="658" cy="1895.5" r="6.3"/><circle cx="680.5" cy="1899" r="6.3"/><circle cx="703" cy="1897" r="6.3"/><circle cx="553" cy="1902.5" r="6.3"/><circle cx="683.5" cy="1907.5" r="6.3"/><circle cx="658.5" cy="1910" r="6.3"/><circle cx="626.5" cy="1924" r="6.3"/><circle cx="629" cy="1926.5" r="6.3"/><circle cx="687.5" cy="1929.5" r="6.3"/><circle cx="363.5" cy="1942.5" r="6.3"/><circle cx="673.5" cy="1944.5" r="6.3"/><circle cx="600.5" cy="1954" r="6.3"/><circle cx="618.5" cy="1958.5" r="6.3"/><circle cx="354.5" cy="1960" r="6.3"/></g>
<g fill="#6EC6EA"><path d="M471.5 1715.9l7.1 12.2h-14.2z"/><path d="M486.5 1732.4l7.1 12.2h-14.2z"/><path d="M493 1738.9l7.1 12.2h-14.2z"/><path d="M559 1736.9l7.1 12.2h-14.2z"/><path d="M417.5 1783.9l7.1 12.2h-14.2z"/><path d="M422.5 1784.4l7.1 12.2h-14.2z"/><path d="M666 1846.9l7.1 12.2h-14.2z"/><path d="M572.5 1870.9l7.1 12.2h-14.2z"/><path d="M654.5 1868.9l7.1 12.2h-14.2z"/><path d="M415.5 1897.4l7.1 12.2h-14.2z"/><path d="M392.5 1900.4l7.1 12.2h-14.2z"/></g>
<g fill="#0B4F71"><path d="M375 1729.4l7.1 12.2h-14.2z"/><path d="M387.5 1732.9l7.1 12.2h-14.2z"/><path d="M416 1737.9l7.1 12.2h-14.2z"/><path d="M360 1752.9l7.1 12.2h-14.2z"/><path d="M398 1778.4l7.1 12.2h-14.2z"/><path d="M480 1736.9l7.1 12.2h-14.2z"/><path d="M513 1733.4l7.1 12.2h-14.2z"/><path d="M524 1745.9l7.1 12.2h-14.2z"/><path d="M494 1749.9l7.1 12.2h-14.2z"/><path d="M561.5 1733.9l7.1 12.2h-14.2z"/><path d="M475.5 1787.4l7.1 12.2h-14.2z"/><path d="M539.5 1805.9l7.1 12.2h-14.2z"/><path d="M400 1826.4l7.1 12.2h-14.2z"/><path d="M399 1906.9l7.1 12.2h-14.2z"/></g>
<g fill="#999999"><rect x="392.8" y="1754.3" width="10.4" height="10.4"/><rect x="381.3" y="1767.8" width="10.4" height="10.4"/><rect x="542.3" y="1746.8" width="10.4" height="10.4"/><rect x="339.3" y="1806.3" width="10.4" height="10.4"/><rect x="326.3" y="1808.3" width="10.4" height="10.4"/><rect x="305.3" y="1810.8" width="10.4" height="10.4"/><rect x="313.8" y="1824.8" width="10.4" height="10.4"/><rect x="297.8" y="1831.8" width="10.4" height="10.4"/><rect x="310.3" y="1833.8" width="10.4" height="10.4"/><rect x="279.8" y="1845.8" width="10.4" height="10.4"/><rect x="289.8" y="1845.8" width="10.4" height="10.4"/><rect x="299.3" y="1846.8" width="10.4" height="10.4"/><rect x="293.3" y="1860.8" width="10.4" height="10.4"/><rect x="285.3" y="1871.8" width="10.4" height="10.4"/><rect x="293.8" y="1896.8" width="10.4" height="10.4"/></g>
<ellipse cx="464.5" cy="1959.2" rx="293.1" ry="124.0" transform="rotate(178.43 464.5 1959.2)" fill="none" stroke="#FFB3B3" stroke-width="2.4"/>
<ellipse cx="571.2" cy="1830" rx="236.1" ry="129.4" transform="rotate(-146.06 571.2 1830)" fill="none" stroke="#990000" stroke-width="2.4"/>
<ellipse cx="505.5" cy="1798.2" rx="231.0" ry="181.3" transform="rotate(-169.26 505.5 1798.2)" fill="none" stroke="#6EC6EA" stroke-width="2.4"/>
<ellipse cx="455.5" cy="1768.8" rx="175.3" ry="97.3" transform="rotate(173.42 455.5 1768.8)" fill="none" stroke="#0B4F71" stroke-width="2.4"/>
<ellipse cx="318" cy="1835" rx="118.5" ry="33.5" transform="rotate(137.71 318 1835)" fill="none" stroke="#999999" stroke-width="2.4"/>
<path d="M143.5 2096.7H809.5" stroke="#000" stroke-width="5.8" fill="none"/>
<rect x="142.9" y="1593.2" width="666.6" height="512.5" fill="none" stroke="#333" stroke-width="1.4"/>
<path d="M172.5 2105.7V2112M331.5 2105.7V2112M491 2105.7V2112M650 2105.7V2112M136.6 1598H142.9M136.6 1731H142.9M136.6 1864H142.9M136.6 1997H142.9" stroke="#111" stroke-width="2" fill="none"/>
<text transform="translate(172.5 2145.2)" font-size="29" text-anchor="middle">−0.6</text>
<text transform="translate(331.5 2145.2)" font-size="29" text-anchor="middle">−0.3</text>
<text transform="translate(491 2145.2)" font-size="29" text-anchor="middle">0.0</text>
<text transform="translate(650 2145.2)" font-size="29" text-anchor="middle">0.3</text>
<text transform="translate(125 1608.3)" font-size="29" text-anchor="end">0.50</text>
<text transform="translate(125 1741.3)" font-size="29" text-anchor="end">0.25</text>
<text transform="translate(125 1874.3)" font-size="29" text-anchor="end">0.00</text>
<text transform="translate(125 2007.3)" font-size="29" text-anchor="end">−0.25</text>
<text transform="translate(475.5 2187.5)" font-size="29" text-anchor="middle">PC1 (21%)</text>
<text transform="translate(24 1849.5) rotate(-90)" font-size="29" text-anchor="middle">PC2 (12%)</text>
<path d="M248.2 1588.9C249.7 1588.4 254.2 1588.3 257.2 1586.0C260.2 1583.7 262.9 1581.6 266.2 1575.2C269.5 1568.8 273.4 1557.8 277.0 1547.4C280.6 1537.1 284.5 1521.5 287.9 1513.2C291.2 1504.8 294.4 1500.4 296.9 1497.3C299.3 1494.2 300.7 1494.4 302.6 1494.4C304.6 1494.4 306.1 1493.9 308.8 1497.3C311.4 1500.7 315.1 1507.8 318.5 1515.0C321.9 1522.1 325.7 1533.0 329.3 1540.2C332.9 1547.4 336.8 1553.7 340.1 1558.2C343.4 1562.8 345.9 1564.7 349.2 1567.3C352.5 1569.8 355.8 1572.2 360.0 1573.4C364.2 1574.6 369.0 1574.7 374.4 1574.5C379.8 1574.3 387.0 1572.2 392.4 1572.3C397.8 1572.4 401.4 1573.2 406.9 1575.2C412.3 1577.2 418.3 1582.4 424.9 1584.6C431.5 1586.7 436.9 1587.5 446.5 1588.2C456.1 1588.8 470.6 1588.9 482.6 1588.5C494.6 1588.2 509.6 1587.6 518.7 1586.0C527.7 1584.4 531.9 1580.2 536.7 1578.8C541.5 1577.4 543.9 1577.3 547.5 1577.4C551.1 1577.4 554.1 1577.7 558.3 1579.2C562.5 1580.6 566.7 1584.5 572.7 1586.0C578.8 1587.6 588.4 1588.1 594.4 1588.5C600.4 1589.0 606.4 1588.8 608.8 1588.9L608.8 1588.9L248.2 1588.9Z" fill="#999999" fill-opacity="0.5" stroke="none"/>
<path d="M173.2 1588.9C185.7 1588.8 227.9 1588.7 248.2 1588.2C268.5 1587.7 283.0 1587.4 295.1 1586.0C307.1 1584.6 312.5 1582.4 320.3 1579.9C328.1 1577.4 334.7 1574.1 341.9 1570.9C349.2 1567.7 357.0 1563.2 363.6 1560.8C370.2 1558.3 376.5 1557.0 381.6 1556.1C386.7 1555.1 389.4 1554.9 394.2 1555.0C399.0 1555.1 404.2 1555.3 410.5 1556.4C416.8 1557.6 424.9 1560.4 432.1 1561.9C439.3 1563.4 446.5 1565.0 453.7 1565.5C461.0 1565.9 468.8 1565.0 475.4 1564.4C482.0 1563.7 488.3 1562.1 493.4 1561.5C498.5 1560.9 501.2 1560.7 506.0 1560.8C510.8 1560.9 516.5 1561.3 522.3 1562.2C528.0 1563.2 533.7 1564.5 540.3 1566.5C546.9 1568.6 554.7 1572.0 561.9 1574.5C569.1 1577.0 575.7 1579.8 583.6 1581.7C591.4 1583.6 598.6 1585.1 608.8 1586.0C619.0 1587.0 626.8 1587.2 644.9 1587.5C662.9 1587.8 694.5 1587.7 717.0 1587.8C739.5 1587.9 769.6 1588.1 780.1 1588.2L780.1 1588.9L173.2 1588.9Z" fill="#0B4F71" fill-opacity="0.5" stroke="none"/>
<path d="M173.2 1588.9C185.7 1588.9 228.7 1589.0 248.2 1588.9C267.7 1588.8 278.0 1588.9 290.0 1588.2C302.0 1587.5 310.3 1586.0 320.3 1584.6C330.3 1583.2 340.9 1581.7 349.9 1579.9C358.9 1578.1 367.3 1575.4 374.4 1573.8C381.5 1572.1 386.4 1571.0 392.4 1569.8C398.4 1568.6 403.9 1567.4 410.5 1566.5C417.1 1565.7 424.9 1565.1 432.1 1564.7C439.3 1564.4 445.3 1564.4 453.7 1564.4C462.2 1564.4 471.8 1564.6 482.6 1564.7C493.4 1564.9 508.4 1565.0 518.7 1565.5C528.9 1565.9 534.9 1566.4 543.9 1567.3C552.9 1568.1 561.9 1569.3 572.7 1570.5C583.6 1571.7 596.8 1573.2 608.8 1574.5C620.8 1575.7 632.8 1577.0 644.9 1578.1C656.9 1579.2 668.9 1580.1 680.9 1581.0C693.0 1581.9 705.0 1582.7 717.0 1583.5C729.0 1584.3 742.5 1585.1 753.1 1585.7C763.6 1586.3 775.6 1586.9 780.1 1587.1L780.1 1588.9L173.2 1588.9Z" fill="#6EC6EA" fill-opacity="0.5" stroke="none"/>
<path d="M173.2 1588.9C185.7 1588.5 226.7 1587.5 248.2 1586.7C269.7 1586.0 284.2 1585.3 302.3 1584.6C320.3 1583.9 338.3 1583.3 356.4 1582.4C374.4 1581.6 392.4 1580.5 410.5 1579.5C428.5 1578.5 449.5 1577.2 464.6 1576.3C479.6 1575.4 488.6 1575.1 500.6 1574.1C512.6 1573.1 525.9 1571.9 536.7 1570.1C547.5 1568.4 557.1 1565.5 565.5 1563.7C573.9 1561.9 580.9 1560.2 587.2 1559.3C593.5 1558.4 598.0 1558.3 603.4 1558.2C608.8 1558.2 612.7 1558.2 619.6 1559.0C626.5 1559.7 636.5 1561.3 644.9 1562.9C653.3 1564.6 661.1 1566.8 670.1 1569.1C679.1 1571.3 689.9 1574.3 699.0 1576.3C708.0 1578.3 715.2 1579.6 724.2 1581.0C733.2 1582.3 743.7 1583.6 753.1 1584.6C762.4 1585.6 775.6 1586.7 780.1 1587.1L780.1 1588.9L173.2 1588.9Z" fill="#990000" fill-opacity="0.5" stroke="none"/>
<path d="M173.2 1588.2C179.7 1587.7 199.6 1586.5 212.1 1585.3C224.6 1584.1 236.2 1582.5 248.2 1581.0C260.2 1579.5 273.4 1577.8 284.2 1576.3C295.1 1574.8 304.1 1573.2 313.1 1572.0C322.1 1570.7 331.1 1569.4 338.3 1568.7C345.6 1568.0 350.4 1568.0 356.4 1568.0C362.4 1568.0 367.2 1568.2 374.4 1568.7C381.6 1569.2 390.6 1570.1 399.6 1570.9C408.7 1571.6 417.7 1572.4 428.5 1573.0C439.3 1573.6 452.5 1574.2 464.6 1574.5C476.6 1574.8 488.6 1574.8 500.6 1574.8C512.6 1574.9 524.7 1574.9 536.7 1574.8C548.7 1574.8 560.7 1574.5 572.7 1574.5C584.8 1574.4 596.8 1574.4 608.8 1574.5C620.8 1574.6 632.8 1574.8 644.9 1575.2C656.9 1575.6 668.9 1576.1 680.9 1576.6C693.0 1577.2 705.0 1577.5 717.0 1578.4C729.0 1579.4 742.5 1581.1 753.1 1582.4C763.6 1583.7 775.6 1585.4 780.1 1586.0L780.1 1588.9L173.2 1588.9Z" fill="#FFB3B3" fill-opacity="0.5" stroke="none"/>
<path d="M173.2 1587.5C179.7 1587.2 198.1 1586.7 212.1 1586.0C226.1 1585.3 242.2 1584.1 257.2 1583.1C272.2 1582.2 285.8 1581.2 302.3 1580.2C318.8 1579.3 338.3 1578.1 356.4 1577.4C374.4 1576.6 392.4 1576.0 410.5 1575.6C428.5 1575.1 446.5 1575.0 464.6 1574.8C482.6 1574.7 500.6 1574.7 518.7 1574.8C536.7 1575.0 554.7 1575.2 572.7 1575.6C590.8 1575.9 608.8 1576.5 626.8 1577.0C644.9 1577.5 662.9 1578.1 680.9 1578.8C699.0 1579.5 718.5 1580.5 735.0 1581.3C751.6 1582.2 772.6 1583.4 780.1 1583.9L780.1 1588.9L173.2 1588.9Z" fill="#999999" fill-opacity="0.5" stroke="none"/>
<path d="M248.2 1588.9C249.7 1588.4 254.2 1588.3 257.2 1586.0C260.2 1583.7 262.9 1581.6 266.2 1575.2C269.5 1568.8 273.4 1557.8 277.0 1547.4C280.6 1537.1 284.5 1521.5 287.9 1513.2C291.2 1504.8 294.4 1500.4 296.9 1497.3C299.3 1494.2 300.7 1494.4 302.6 1494.4C304.6 1494.4 306.1 1493.9 308.8 1497.3C311.4 1500.7 315.1 1507.8 318.5 1515.0C321.9 1522.1 325.7 1533.0 329.3 1540.2C332.9 1547.4 336.8 1553.7 340.1 1558.2C343.4 1562.8 345.9 1564.7 349.2 1567.3C352.5 1569.8 355.8 1572.2 360.0 1573.4C364.2 1574.6 369.0 1574.7 374.4 1574.5C379.8 1574.3 387.0 1572.2 392.4 1572.3C397.8 1572.4 401.4 1573.2 406.9 1575.2C412.3 1577.2 418.3 1582.4 424.9 1584.6C431.5 1586.7 436.9 1587.5 446.5 1588.2C456.1 1588.8 470.6 1588.9 482.6 1588.5C494.6 1588.2 509.6 1587.6 518.7 1586.0C527.7 1584.4 531.9 1580.2 536.7 1578.8C541.5 1577.4 543.9 1577.3 547.5 1577.4C551.1 1577.4 554.1 1577.7 558.3 1579.2C562.5 1580.6 566.7 1584.5 572.7 1586.0C578.8 1587.6 588.4 1588.1 594.4 1588.5C600.4 1589.0 606.4 1588.8 608.8 1588.9" fill="none" stroke="#999999" stroke-width="2"/>
<path d="M173.2 1588.9C185.7 1588.8 227.9 1588.7 248.2 1588.2C268.5 1587.7 283.0 1587.4 295.1 1586.0C307.1 1584.6 312.5 1582.4 320.3 1579.9C328.1 1577.4 334.7 1574.1 341.9 1570.9C349.2 1567.7 357.0 1563.2 363.6 1560.8C370.2 1558.3 376.5 1557.0 381.6 1556.1C386.7 1555.1 389.4 1554.9 394.2 1555.0C399.0 1555.1 404.2 1555.3 410.5 1556.4C416.8 1557.6 424.9 1560.4 432.1 1561.9C439.3 1563.4 446.5 1565.0 453.7 1565.5C461.0 1565.9 468.8 1565.0 475.4 1564.4C482.0 1563.7 488.3 1562.1 493.4 1561.5C498.5 1560.9 501.2 1560.7 506.0 1560.8C510.8 1560.9 516.5 1561.3 522.3 1562.2C528.0 1563.2 533.7 1564.5 540.3 1566.5C546.9 1568.6 554.7 1572.0 561.9 1574.5C569.1 1577.0 575.7 1579.8 583.6 1581.7C591.4 1583.6 598.6 1585.1 608.8 1586.0C619.0 1587.0 626.8 1587.2 644.9 1587.5C662.9 1587.8 694.5 1587.7 717.0 1587.8C739.5 1587.9 769.6 1588.1 780.1 1588.2" fill="none" stroke="#0B4F71" stroke-width="2"/>
<path d="M173.2 1588.9C185.7 1588.9 228.7 1589.0 248.2 1588.9C267.7 1588.8 278.0 1588.9 290.0 1588.2C302.0 1587.5 310.3 1586.0 320.3 1584.6C330.3 1583.2 340.9 1581.7 349.9 1579.9C358.9 1578.1 367.3 1575.4 374.4 1573.8C381.5 1572.1 386.4 1571.0 392.4 1569.8C398.4 1568.6 403.9 1567.4 410.5 1566.5C417.1 1565.7 424.9 1565.1 432.1 1564.7C439.3 1564.4 445.3 1564.4 453.7 1564.4C462.2 1564.4 471.8 1564.6 482.6 1564.7C493.4 1564.9 508.4 1565.0 518.7 1565.5C528.9 1565.9 534.9 1566.4 543.9 1567.3C552.9 1568.1 561.9 1569.3 572.7 1570.5C583.6 1571.7 596.8 1573.2 608.8 1574.5C620.8 1575.7 632.8 1577.0 644.9 1578.1C656.9 1579.2 668.9 1580.1 680.9 1581.0C693.0 1581.9 705.0 1582.7 717.0 1583.5C729.0 1584.3 742.5 1585.1 753.1 1585.7C763.6 1586.3 775.6 1586.9 780.1 1587.1" fill="none" stroke="#6EC6EA" stroke-width="2"/>
<path d="M173.2 1588.9C185.7 1588.5 226.7 1587.5 248.2 1586.7C269.7 1586.0 284.2 1585.3 302.3 1584.6C320.3 1583.9 338.3 1583.3 356.4 1582.4C374.4 1581.6 392.4 1580.5 410.5 1579.5C428.5 1578.5 449.5 1577.2 464.6 1576.3C479.6 1575.4 488.6 1575.1 500.6 1574.1C512.6 1573.1 525.9 1571.9 536.7 1570.1C547.5 1568.4 557.1 1565.5 565.5 1563.7C573.9 1561.9 580.9 1560.2 587.2 1559.3C593.5 1558.4 598.0 1558.3 603.4 1558.2C608.8 1558.2 612.7 1558.2 619.6 1559.0C626.5 1559.7 636.5 1561.3 644.9 1562.9C653.3 1564.6 661.1 1566.8 670.1 1569.1C679.1 1571.3 689.9 1574.3 699.0 1576.3C708.0 1578.3 715.2 1579.6 724.2 1581.0C733.2 1582.3 743.7 1583.6 753.1 1584.6C762.4 1585.6 775.6 1586.7 780.1 1587.1" fill="none" stroke="#990000" stroke-width="2"/>
<path d="M173.2 1588.2C179.7 1587.7 199.6 1586.5 212.1 1585.3C224.6 1584.1 236.2 1582.5 248.2 1581.0C260.2 1579.5 273.4 1577.8 284.2 1576.3C295.1 1574.8 304.1 1573.2 313.1 1572.0C322.1 1570.7 331.1 1569.4 338.3 1568.7C345.6 1568.0 350.4 1568.0 356.4 1568.0C362.4 1568.0 367.2 1568.2 374.4 1568.7C381.6 1569.2 390.6 1570.1 399.6 1570.9C408.7 1571.6 417.7 1572.4 428.5 1573.0C439.3 1573.6 452.5 1574.2 464.6 1574.5C476.6 1574.8 488.6 1574.8 500.6 1574.8C512.6 1574.9 524.7 1574.9 536.7 1574.8C548.7 1574.8 560.7 1574.5 572.7 1574.5C584.8 1574.4 596.8 1574.4 608.8 1574.5C620.8 1574.6 632.8 1574.8 644.9 1575.2C656.9 1575.6 668.9 1576.1 680.9 1576.6C693.0 1577.2 705.0 1577.5 717.0 1578.4C729.0 1579.4 742.5 1581.1 753.1 1582.4C763.6 1583.7 775.6 1585.4 780.1 1586.0" fill="none" stroke="#FFB3B3" stroke-width="2"/>
<path d="M173.2 1587.5C179.7 1587.2 198.1 1586.7 212.1 1586.0C226.1 1585.3 242.2 1584.1 257.2 1583.1C272.2 1582.2 285.8 1581.2 302.3 1580.2C318.8 1579.3 338.3 1578.1 356.4 1577.4C374.4 1576.6 392.4 1576.0 410.5 1575.6C428.5 1575.1 446.5 1575.0 464.6 1574.8C482.6 1574.7 500.6 1574.7 518.7 1574.8C536.7 1575.0 554.7 1575.2 572.7 1575.6C590.8 1575.9 608.8 1576.5 626.8 1577.0C644.9 1577.5 662.9 1578.1 680.9 1578.8C699.0 1579.5 718.5 1580.5 735.0 1581.3C751.6 1582.2 772.6 1583.4 780.1 1583.9" fill="none" stroke="#999999" stroke-width="2"/>
<path d="M816.3 1617.1C816.3 1626.8 816.3 1660.7 816.6 1675.5C816.8 1690.2 817.0 1698.1 817.6 1705.6C818.1 1713.2 818.4 1716.7 820.1 1720.7C821.7 1724.7 824.7 1727.0 827.6 1729.5C830.6 1732.0 833.9 1733.3 837.7 1735.8C841.5 1738.3 846.7 1741.9 850.3 1744.6C853.8 1747.3 857.2 1749.9 859.1 1752.2C860.9 1754.5 861.4 1756.1 861.6 1758.5C861.7 1760.8 861.1 1763.5 859.8 1766.0C858.6 1768.5 856.0 1771.0 854.0 1773.5C852.0 1776.1 849.3 1778.8 847.7 1781.1C846.2 1783.4 844.9 1785.3 844.7 1787.4C844.5 1789.5 845.1 1791.8 846.5 1793.7C847.8 1795.5 850.0 1797.2 852.8 1798.7C855.5 1800.2 859.1 1801.0 862.8 1802.5C866.6 1803.9 870.8 1805.6 875.4 1807.5C880.0 1809.4 885.5 1811.3 890.5 1813.8C895.5 1816.3 901.2 1819.4 905.6 1822.6C910.0 1825.7 914.1 1829.1 916.9 1832.6C919.7 1836.2 922.0 1840.6 922.4 1844.0C922.9 1847.3 921.4 1850.3 919.4 1852.8C917.4 1855.3 914.6 1856.7 910.6 1859.1C906.6 1861.4 901.4 1864.1 895.5 1866.6C889.7 1869.1 881.3 1871.8 875.4 1874.1C869.5 1876.5 863.9 1878.5 860.3 1880.4C856.8 1882.3 855.7 1883.2 854.0 1885.5C852.3 1887.8 851.7 1891.1 850.3 1894.3C848.8 1897.4 847.3 1901.2 845.2 1904.3C843.1 1907.5 840.2 1910.6 837.7 1913.1C835.2 1915.6 832.4 1917.1 830.1 1919.4C827.8 1921.7 825.6 1924.0 823.8 1927.0C822.1 1929.9 820.7 1932.0 819.6 1937.0C818.4 1942.1 817.6 1932.6 817.1 1957.1C816.5 1981.7 816.4 2063.0 816.3 2084.2L816.3 2084.2L816.3 1617.1Z" fill="#999999" fill-opacity="0.5" stroke="none"/>
<path d="M816.3 1617.1C816.4 1622.6 816.5 1640.6 816.8 1650.3C817.1 1660.0 816.7 1667.1 818.1 1675.5C819.4 1683.8 821.4 1694.7 825.1 1700.6C828.8 1706.5 834.7 1707.7 840.2 1710.7C845.6 1713.6 851.1 1715.9 857.8 1718.2C864.5 1720.5 873.3 1722.4 880.4 1724.5C887.6 1726.6 893.4 1728.3 900.6 1730.8C907.7 1733.3 917.3 1736.9 923.2 1739.6C929.1 1742.3 933.3 1745.2 935.8 1747.1C938.2 1749.0 938.0 1749.4 937.8 1750.9C937.6 1752.4 937.4 1753.8 934.5 1755.9C931.7 1758.0 925.9 1761.0 920.7 1763.5C915.4 1766.0 908.5 1768.5 903.1 1771.0C897.6 1773.5 892.6 1775.4 888.0 1778.6C883.4 1781.7 878.8 1786.5 875.4 1789.9C872.1 1793.2 870.8 1794.9 867.9 1798.7C864.9 1802.5 861.2 1807.9 857.8 1812.5C854.4 1817.1 850.7 1822.2 847.7 1826.4C844.8 1830.5 842.7 1834.3 840.2 1837.7C837.7 1841.0 835.2 1843.3 832.6 1846.5C830.1 1849.6 826.8 1853.6 825.1 1856.5C823.4 1859.5 823.2 1860.7 822.6 1864.1C822.0 1867.4 820.9 1871.6 821.3 1876.7C821.7 1881.7 823.6 1889.2 825.1 1894.3C826.6 1899.3 829.1 1903.1 830.1 1906.8C831.2 1910.6 831.5 1913.5 831.4 1916.9C831.3 1920.3 830.5 1923.6 829.6 1927.0C828.8 1930.3 827.7 1932.0 826.4 1937.0C825.0 1942.1 822.7 1950.4 821.3 1957.1C819.9 1963.8 818.8 1969.7 818.1 1977.3C817.3 1984.8 817.1 1984.6 816.8 2002.4C816.5 2020.2 816.4 2070.5 816.3 2084.2L816.3 2084.2L816.3 1617.1Z" fill="#0B4F71" fill-opacity="0.5" stroke="none"/>
<path d="M816.3 1617.1C816.6 1620.5 817.2 1631.8 818.1 1637.7C818.9 1643.7 818.9 1645.3 821.3 1652.8C823.8 1660.4 827.8 1673.4 832.6 1683.0C837.5 1692.6 845.2 1702.3 850.3 1710.7C855.3 1719.0 860.0 1725.8 862.8 1733.3C865.7 1740.8 867.1 1748.8 867.4 1755.9C867.6 1763.1 865.9 1769.8 864.1 1776.1C862.3 1782.3 859.1 1787.4 856.5 1793.7C854.0 1799.9 850.7 1806.2 849.0 1813.8C847.3 1821.3 846.1 1830.5 846.5 1838.9C846.9 1847.3 850.0 1855.7 851.5 1864.1C853.0 1872.5 855.3 1881.3 855.3 1889.2C855.3 1897.2 854.4 1903.9 851.5 1911.9C848.6 1919.8 842.1 1928.2 837.7 1937.0C833.3 1945.8 828.2 1955.9 825.1 1964.7C822.0 1973.5 820.3 1979.4 818.8 1989.8C817.3 2000.3 816.7 2011.8 816.3 2027.6C815.9 2043.3 816.3 2074.7 816.3 2084.2L816.3 2084.2L816.3 1617.1Z" fill="#6EC6EA" fill-opacity="0.5" stroke="none"/>
<path d="M816.3 1617.1C816.4 1622.6 816.5 1640.6 816.8 1650.3C817.1 1660.0 816.7 1667.1 818.1 1675.5C819.4 1683.8 820.6 1692.6 825.1 1700.6C829.6 1708.6 838.5 1715.7 845.2 1723.2C851.9 1730.8 860.1 1738.7 865.3 1745.9C870.6 1753.0 874.6 1761.0 876.7 1766.0C878.8 1771.0 878.5 1771.9 877.9 1776.1C877.3 1780.2 875.8 1785.7 872.9 1791.1C870.0 1796.6 864.9 1802.9 860.3 1808.8C855.7 1814.6 848.6 1820.5 845.2 1826.4C841.9 1832.2 840.4 1837.7 840.2 1844.0C840.0 1850.3 842.1 1857.8 844.0 1864.1C845.9 1870.4 849.3 1875.4 851.5 1881.7C853.7 1888.0 856.7 1895.1 857.3 1901.8C857.9 1908.5 857.3 1913.5 855.3 1921.9C853.3 1930.3 849.4 1942.1 845.2 1952.1C841.0 1962.2 834.3 1972.2 830.1 1982.3C825.9 1992.4 822.3 2002.8 820.1 2012.5C817.9 2022.1 817.7 2028.2 817.1 2040.1C816.4 2052.1 816.4 2076.8 816.3 2084.2L816.3 2084.2L816.3 1617.1Z" fill="#990000" fill-opacity="0.5" stroke="none"/>
<path d="M816.3 1617.1C816.4 1626.8 816.2 1657.3 817.1 1675.5C817.9 1693.6 820.2 1711.1 821.3 1725.8C822.5 1740.4 823.4 1750.9 823.8 1763.5C824.3 1776.1 823.4 1788.6 823.8 1801.2C824.3 1813.8 825.3 1828.5 826.4 1838.9C827.4 1849.4 828.7 1856.5 830.1 1864.1C831.6 1871.6 831.8 1876.7 835.2 1884.2C838.5 1891.8 844.0 1901.4 850.3 1909.4C856.5 1917.3 865.8 1924.9 872.9 1932.0C880.0 1939.1 888.4 1946.9 893.0 1952.1C897.6 1957.4 899.1 1960.5 900.6 1963.4C902.0 1966.4 901.9 1967.4 901.8 1969.7C901.7 1972.0 901.1 1974.7 900.1 1977.3C899.0 1979.8 898.8 1981.0 895.5 1984.8C892.3 1988.6 885.5 1993.6 880.4 1999.9C875.4 2006.2 871.2 2015.4 865.3 2022.5C859.5 2029.7 851.5 2036.4 845.2 2042.7C838.9 2048.9 832.0 2054.8 827.6 2060.3C823.2 2065.7 820.7 2071.4 818.8 2075.4C816.9 2079.3 816.7 2082.7 816.3 2084.2L816.3 2084.2L816.3 1617.1Z" fill="#FFB3B3" fill-opacity="0.5" stroke="none"/>
<path d="M816.3 1617.1C816.5 1621.0 816.9 1632.6 817.6 1640.2C818.2 1647.9 818.4 1656.2 820.1 1662.9C821.7 1669.6 824.3 1674.6 827.6 1680.5C831.0 1686.4 835.2 1692.2 840.2 1698.1C845.2 1704.0 852.3 1710.2 857.8 1715.7C863.2 1721.1 868.9 1725.8 872.9 1730.8C876.9 1735.8 879.8 1740.8 881.7 1745.9C883.6 1750.9 884.4 1755.9 884.2 1761.0C884.0 1766.0 882.7 1771.0 880.4 1776.1C878.1 1781.1 873.7 1787.0 870.4 1791.1C867.0 1795.3 863.5 1797.4 860.3 1801.2C857.2 1805.0 853.8 1809.6 851.5 1813.8C849.2 1818.0 847.6 1821.7 846.5 1826.4C845.3 1831.0 844.7 1837.3 844.7 1841.4C844.7 1845.6 845.6 1848.2 846.5 1851.5C847.4 1854.9 849.2 1858.2 850.3 1861.6C851.3 1864.9 852.2 1867.9 852.8 1871.6C853.3 1875.4 854.2 1879.6 853.5 1884.2C852.9 1888.8 851.6 1894.5 849.0 1899.3C846.4 1904.1 840.8 1909.8 837.7 1913.1C834.5 1916.5 832.4 1917.1 830.1 1919.4C827.8 1921.7 825.6 1924.0 823.8 1927.0C822.1 1929.9 820.7 1932.0 819.6 1937.0C818.4 1942.1 817.6 1932.6 817.1 1957.1C816.5 1981.7 816.4 2063.0 816.3 2084.2L816.3 2084.2L816.3 1617.1Z" fill="#999999" fill-opacity="0.5" stroke="none"/>
<path d="M816.3 1617.1C816.3 1626.8 816.3 1660.7 816.6 1675.5C816.8 1690.2 817.0 1698.1 817.6 1705.6C818.1 1713.2 818.4 1716.7 820.1 1720.7C821.7 1724.7 824.7 1727.0 827.6 1729.5C830.6 1732.0 833.9 1733.3 837.7 1735.8C841.5 1738.3 846.7 1741.9 850.3 1744.6C853.8 1747.3 857.2 1749.9 859.1 1752.2C860.9 1754.5 861.4 1756.1 861.6 1758.5C861.7 1760.8 861.1 1763.5 859.8 1766.0C858.6 1768.5 856.0 1771.0 854.0 1773.5C852.0 1776.1 849.3 1778.8 847.7 1781.1C846.2 1783.4 844.9 1785.3 844.7 1787.4C844.5 1789.5 845.1 1791.8 846.5 1793.7C847.8 1795.5 850.0 1797.2 852.8 1798.7C855.5 1800.2 859.1 1801.0 862.8 1802.5C866.6 1803.9 870.8 1805.6 875.4 1807.5C880.0 1809.4 885.5 1811.3 890.5 1813.8C895.5 1816.3 901.2 1819.4 905.6 1822.6C910.0 1825.7 914.1 1829.1 916.9 1832.6C919.7 1836.2 922.0 1840.6 922.4 1844.0C922.9 1847.3 921.4 1850.3 919.4 1852.8C917.4 1855.3 914.6 1856.7 910.6 1859.1C906.6 1861.4 901.4 1864.1 895.5 1866.6C889.7 1869.1 881.3 1871.8 875.4 1874.1C869.5 1876.5 863.9 1878.5 860.3 1880.4C856.8 1882.3 855.7 1883.2 854.0 1885.5C852.3 1887.8 851.7 1891.1 850.3 1894.3C848.8 1897.4 847.3 1901.2 845.2 1904.3C843.1 1907.5 840.2 1910.6 837.7 1913.1C835.2 1915.6 832.4 1917.1 830.1 1919.4C827.8 1921.7 825.6 1924.0 823.8 1927.0C822.1 1929.9 820.7 1932.0 819.6 1937.0C818.4 1942.1 817.6 1932.6 817.1 1957.1C816.5 1981.7 816.4 2063.0 816.3 2084.2" fill="none" stroke="#999999" stroke-width="2"/>
<path d="M816.3 1617.1C816.4 1622.6 816.5 1640.6 816.8 1650.3C817.1 1660.0 816.7 1667.1 818.1 1675.5C819.4 1683.8 821.4 1694.7 825.1 1700.6C828.8 1706.5 834.7 1707.7 840.2 1710.7C845.6 1713.6 851.1 1715.9 857.8 1718.2C864.5 1720.5 873.3 1722.4 880.4 1724.5C887.6 1726.6 893.4 1728.3 900.6 1730.8C907.7 1733.3 917.3 1736.9 923.2 1739.6C929.1 1742.3 933.3 1745.2 935.8 1747.1C938.2 1749.0 938.0 1749.4 937.8 1750.9C937.6 1752.4 937.4 1753.8 934.5 1755.9C931.7 1758.0 925.9 1761.0 920.7 1763.5C915.4 1766.0 908.5 1768.5 903.1 1771.0C897.6 1773.5 892.6 1775.4 888.0 1778.6C883.4 1781.7 878.8 1786.5 875.4 1789.9C872.1 1793.2 870.8 1794.9 867.9 1798.7C864.9 1802.5 861.2 1807.9 857.8 1812.5C854.4 1817.1 850.7 1822.2 847.7 1826.4C844.8 1830.5 842.7 1834.3 840.2 1837.7C837.7 1841.0 835.2 1843.3 832.6 1846.5C830.1 1849.6 826.8 1853.6 825.1 1856.5C823.4 1859.5 823.2 1860.7 822.6 1864.1C822.0 1867.4 820.9 1871.6 821.3 1876.7C821.7 1881.7 823.6 1889.2 825.1 1894.3C826.6 1899.3 829.1 1903.1 830.1 1906.8C831.2 1910.6 831.5 1913.5 831.4 1916.9C831.3 1920.3 830.5 1923.6 829.6 1927.0C828.8 1930.3 827.7 1932.0 826.4 1937.0C825.0 1942.1 822.7 1950.4 821.3 1957.1C819.9 1963.8 818.8 1969.7 818.1 1977.3C817.3 1984.8 817.1 1984.6 816.8 2002.4C816.5 2020.2 816.4 2070.5 816.3 2084.2" fill="none" stroke="#0B4F71" stroke-width="2"/>
<path d="M816.3 1617.1C816.6 1620.5 817.2 1631.8 818.1 1637.7C818.9 1643.7 818.9 1645.3 821.3 1652.8C823.8 1660.4 827.8 1673.4 832.6 1683.0C837.5 1692.6 845.2 1702.3 850.3 1710.7C855.3 1719.0 860.0 1725.8 862.8 1733.3C865.7 1740.8 867.1 1748.8 867.4 1755.9C867.6 1763.1 865.9 1769.8 864.1 1776.1C862.3 1782.3 859.1 1787.4 856.5 1793.7C854.0 1799.9 850.7 1806.2 849.0 1813.8C847.3 1821.3 846.1 1830.5 846.5 1838.9C846.9 1847.3 850.0 1855.7 851.5 1864.1C853.0 1872.5 855.3 1881.3 855.3 1889.2C855.3 1897.2 854.4 1903.9 851.5 1911.9C848.6 1919.8 842.1 1928.2 837.7 1937.0C833.3 1945.8 828.2 1955.9 825.1 1964.7C822.0 1973.5 820.3 1979.4 818.8 1989.8C817.3 2000.3 816.7 2011.8 816.3 2027.6C815.9 2043.3 816.3 2074.7 816.3 2084.2" fill="none" stroke="#6EC6EA" stroke-width="2"/>
<path d="M816.3 1617.1C816.4 1622.6 816.5 1640.6 816.8 1650.3C817.1 1660.0 816.7 1667.1 818.1 1675.5C819.4 1683.8 820.6 1692.6 825.1 1700.6C829.6 1708.6 838.5 1715.7 845.2 1723.2C851.9 1730.8 860.1 1738.7 865.3 1745.9C870.6 1753.0 874.6 1761.0 876.7 1766.0C878.8 1771.0 878.5 1771.9 877.9 1776.1C877.3 1780.2 875.8 1785.7 872.9 1791.1C870.0 1796.6 864.9 1802.9 860.3 1808.8C855.7 1814.6 848.6 1820.5 845.2 1826.4C841.9 1832.2 840.4 1837.7 840.2 1844.0C840.0 1850.3 842.1 1857.8 844.0 1864.1C845.9 1870.4 849.3 1875.4 851.5 1881.7C853.7 1888.0 856.7 1895.1 857.3 1901.8C857.9 1908.5 857.3 1913.5 855.3 1921.9C853.3 1930.3 849.4 1942.1 845.2 1952.1C841.0 1962.2 834.3 1972.2 830.1 1982.3C825.9 1992.4 822.3 2002.8 820.1 2012.5C817.9 2022.1 817.7 2028.2 817.1 2040.1C816.4 2052.1 816.4 2076.8 816.3 2084.2" fill="none" stroke="#990000" stroke-width="2"/>
<path d="M816.3 1617.1C816.4 1626.8 816.2 1657.3 817.1 1675.5C817.9 1693.6 820.2 1711.1 821.3 1725.8C822.5 1740.4 823.4 1750.9 823.8 1763.5C824.3 1776.1 823.4 1788.6 823.8 1801.2C824.3 1813.8 825.3 1828.5 826.4 1838.9C827.4 1849.4 828.7 1856.5 830.1 1864.1C831.6 1871.6 831.8 1876.7 835.2 1884.2C838.5 1891.8 844.0 1901.4 850.3 1909.4C856.5 1917.3 865.8 1924.9 872.9 1932.0C880.0 1939.1 888.4 1946.9 893.0 1952.1C897.6 1957.4 899.1 1960.5 900.6 1963.4C902.0 1966.4 901.9 1967.4 901.8 1969.7C901.7 1972.0 901.1 1974.7 900.1 1977.3C899.0 1979.8 898.8 1981.0 895.5 1984.8C892.3 1988.6 885.5 1993.6 880.4 1999.9C875.4 2006.2 871.2 2015.4 865.3 2022.5C859.5 2029.7 851.5 2036.4 845.2 2042.7C838.9 2048.9 832.0 2054.8 827.6 2060.3C823.2 2065.7 820.7 2071.4 818.8 2075.4C816.9 2079.3 816.7 2082.7 816.3 2084.2" fill="none" stroke="#FFB3B3" stroke-width="2"/>
<path d="M816.3 1617.1C816.5 1621.0 816.9 1632.6 817.6 1640.2C818.2 1647.9 818.4 1656.2 820.1 1662.9C821.7 1669.6 824.3 1674.6 827.6 1680.5C831.0 1686.4 835.2 1692.2 840.2 1698.1C845.2 1704.0 852.3 1710.2 857.8 1715.7C863.2 1721.1 868.9 1725.8 872.9 1730.8C876.9 1735.8 879.8 1740.8 881.7 1745.9C883.6 1750.9 884.4 1755.9 884.2 1761.0C884.0 1766.0 882.7 1771.0 880.4 1776.1C878.1 1781.1 873.7 1787.0 870.4 1791.1C867.0 1795.3 863.5 1797.4 860.3 1801.2C857.2 1805.0 853.8 1809.6 851.5 1813.8C849.2 1818.0 847.6 1821.7 846.5 1826.4C845.3 1831.0 844.7 1837.3 844.7 1841.4C844.7 1845.6 845.6 1848.2 846.5 1851.5C847.4 1854.9 849.2 1858.2 850.3 1861.6C851.3 1864.9 852.2 1867.9 852.8 1871.6C853.3 1875.4 854.2 1879.6 853.5 1884.2C852.9 1888.8 851.6 1894.5 849.0 1899.3C846.4 1904.1 840.8 1909.8 837.7 1913.1C834.5 1916.5 832.4 1917.1 830.1 1919.4C827.8 1921.7 825.6 1924.0 823.8 1927.0C822.1 1929.9 820.7 1932.0 819.6 1937.0C818.4 1942.1 817.6 1932.6 817.1 1957.1C816.5 1981.7 816.4 2063.0 816.3 2084.2" fill="none" stroke="#999999" stroke-width="2"/>
<text transform="translate(1048.5 1501.8)" font-size="42.5" text-anchor="start" font-weight="bold">f</text>
<path d="M1283.8 1593V2105.7M1447.2 1593V2105.7M1611.2 1593V2105.7M1775.2 1593V2105.7M1182.5 1677H1849M1182.5 1829H1849M1182.5 1980.5H1849" stroke="#EFEFEF" stroke-width="1" fill="none"/>
<path d="M1202 1593V2105.7M1365.5 1593V2105.7M1529.5 1593V2105.7M1693.5 1593V2105.7M1182.5 1601H1849M1182.5 1753H1849M1182.5 1904.5H1849M1182.5 2056.5H1849" stroke="#E8E8E8" stroke-width="2" fill="none"/>
<g fill="#FFB3B3"><circle cx="1709.5" cy="1802.5" r="6.3"/><circle cx="1727.5" cy="1804" r="6.3"/><circle cx="1711.5" cy="1819" r="6.3"/><circle cx="1558.5" cy="1836.5" r="6.3"/><circle cx="1638.5" cy="1858" r="6.3"/><circle cx="1656" cy="1867.5" r="6.3"/><circle cx="1717.5" cy="1860.5" r="6.3"/><circle cx="1685.5" cy="1888" r="6.3"/><circle cx="1623" cy="1896.5" r="6.3"/><circle cx="1494.5" cy="1906.5" r="6.3"/><circle cx="1521" cy="1915" r="6.3"/><circle cx="1502.5" cy="1918" r="6.3"/><circle cx="1354" cy="1925" r="6.3"/><circle cx="1384.5" cy="1923" r="6.3"/><circle cx="1360" cy="1937" r="6.3"/><circle cx="1383.5" cy="1942" r="6.3"/><circle cx="1565" cy="1933" r="6.3"/><circle cx="1544.5" cy="1940" r="6.3"/><circle cx="1670.5" cy="1934" r="6.3"/><circle cx="1657" cy="1942.5" r="6.3"/><circle cx="1360.5" cy="1948" r="6.3"/><circle cx="1613.5" cy="1951.5" r="6.3"/><circle cx="1371" cy="1960" r="6.3"/><circle cx="1390.5" cy="1961" r="6.3"/><circle cx="1376.5" cy="1966.5" r="6.3"/><circle cx="1478.5" cy="1962" r="6.3"/><circle cx="1472.5" cy="1964" r="6.3"/><circle cx="1378.5" cy="1972" r="6.3"/><circle cx="1628.5" cy="1971.5" r="6.3"/><circle cx="1623" cy="1974" r="6.3"/><circle cx="1378.5" cy="1979" r="6.3"/><circle cx="1442" cy="1988.5" r="6.3"/><circle cx="1375.5" cy="1994.5" r="6.3"/><circle cx="1534" cy="1992.5" r="6.3"/><circle cx="1587.5" cy="1994" r="6.3"/><circle cx="1441.5" cy="1999" r="6.3"/><circle cx="1455.5" cy="2000" r="6.3"/><circle cx="1397" cy="2008" r="6.3"/><circle cx="1423.5" cy="2014.5" r="6.3"/><circle cx="1479" cy="2033" r="6.3"/><circle cx="1457.5" cy="2056.5" r="6.3"/></g>
<g fill="#990000"><circle cx="1732" cy="1773.5" r="6.3"/><circle cx="1728.5" cy="1779" r="6.3"/><circle cx="1747.5" cy="1790.5" r="6.3"/><circle cx="1701.5" cy="1798.5" r="6.3"/><circle cx="1724.5" cy="1801" r="6.3"/><circle cx="1596" cy="1802.5" r="6.3"/><circle cx="1717" cy="1810" r="6.3"/><circle cx="1701.5" cy="1814.5" r="6.3"/><circle cx="1389" cy="1837" r="6.3"/><circle cx="1396.5" cy="1849" r="6.3"/><circle cx="1707" cy="1857.5" r="6.3"/><circle cx="1671.5" cy="1870" r="6.3"/><circle cx="1459" cy="1891.5" r="6.3"/><circle cx="1497.5" cy="1891" r="6.3"/><circle cx="1544.5" cy="1887.5" r="6.3"/><circle cx="1667.5" cy="1893.5" r="6.3"/><circle cx="1685.5" cy="1892.5" r="6.3"/><circle cx="1593.5" cy="1898.5" r="6.3"/><circle cx="1662" cy="1901" r="6.3"/><circle cx="1634" cy="1905" r="6.3"/><circle cx="1475.5" cy="1913.5" r="6.3"/><circle cx="1488.5" cy="1913.5" r="6.3"/><circle cx="1621.5" cy="1919.5" r="6.3"/><circle cx="1650" cy="1920.5" r="6.3"/><circle cx="1642.5" cy="1923" r="6.3"/><circle cx="1670.5" cy="1924.5" r="6.3"/><circle cx="1504" cy="1944.5" r="6.3"/><circle cx="1507" cy="1944" r="6.3"/><circle cx="1619" cy="1942.5" r="6.3"/><circle cx="1660" cy="1952" r="6.3"/><circle cx="1585" cy="1953" r="6.3"/><circle cx="1597" cy="1953" r="6.3"/><circle cx="1646" cy="1960.5" r="6.3"/><circle cx="1618.5" cy="1961" r="6.3"/><circle cx="1606.5" cy="1966.5" r="6.3"/><circle cx="1614" cy="1970.5" r="6.3"/><circle cx="1545.5" cy="1979.5" r="6.3"/><circle cx="1513.5" cy="1981" r="6.3"/><circle cx="1611" cy="1983" r="6.3"/><circle cx="1389.5" cy="1987.5" r="6.3"/><circle cx="1399" cy="2015" r="6.3"/></g>
<g fill="#6EC6EA"><path d="M1613 1798.9l7.1 12.2h-14.2z"/><path d="M1697.5 1838.4l7.1 12.2h-14.2z"/><path d="M1709 1841.9l7.1 12.2h-14.2z"/><path d="M1428.5 1864.4l7.1 12.2h-14.2z"/><path d="M1452.5 1897.9l7.1 12.2h-14.2z"/><path d="M1454 1928.4l7.1 12.2h-14.2z"/><path d="M1510 1924.4l7.1 12.2h-14.2z"/><path d="M1596.5 1938.4l7.1 12.2h-14.2z"/><path d="M1457.5 1970.9l7.1 12.2h-14.2z"/><path d="M1525 1966.9l7.1 12.2h-14.2z"/><path d="M1531.5 1969.4l7.1 12.2h-14.2z"/></g>
<g fill="#0B4F71"><path d="M1394 1841.9l7.1 12.2h-14.2z"/><path d="M1411 1846.9l7.1 12.2h-14.2z"/><path d="M1580 1864.4l7.1 12.2h-14.2z"/><path d="M1424 1874.9l7.1 12.2h-14.2z"/><path d="M1434 1872.9l7.1 12.2h-14.2z"/><path d="M1436 1875.9l7.1 12.2h-14.2z"/><path d="M1453 1900.9l7.1 12.2h-14.2z"/><path d="M1601.5 1921.9l7.1 12.2h-14.2z"/><path d="M1565 1922.9l7.1 12.2h-14.2z"/><path d="M1436.5 1951.9l7.1 12.2h-14.2z"/><path d="M1518.5 1956.9l7.1 12.2h-14.2z"/><path d="M1533 1952.9l7.1 12.2h-14.2z"/><path d="M1552.5 1978.4l7.1 12.2h-14.2z"/><path d="M1513.5 2006.4l7.1 12.2h-14.2z"/></g>
<g fill="#999999"><rect x="1327.3" y="1686.3" width="10.4" height="10.4"/><rect x="1319.8" y="1694.8" width="10.4" height="10.4"/><rect x="1318.3" y="1704.3" width="10.4" height="10.4"/><rect x="1327.3" y="1706.8" width="10.4" height="10.4"/><rect x="1332.8" y="1715.8" width="10.4" height="10.4"/><rect x="1313.3" y="1738.3" width="10.4" height="10.4"/><rect x="1339.3" y="1739.3" width="10.4" height="10.4"/><rect x="1345.3" y="1748.3" width="10.4" height="10.4"/><rect x="1331.3" y="1770.3" width="10.4" height="10.4"/><rect x="1360.8" y="1768.8" width="10.4" height="10.4"/><rect x="1348.3" y="1775.3" width="10.4" height="10.4"/><rect x="1429.3" y="1849.8" width="10.4" height="10.4"/><rect x="1417.8" y="1855.8" width="10.4" height="10.4"/><rect x="1373.8" y="1866.3" width="10.4" height="10.4"/><rect x="1582.3" y="1917.3" width="10.4" height="10.4"/></g>
<ellipse cx="1504.2" cy="1945" rx="306.0" ry="104.1" transform="rotate(161.64 1504.2 1945)" fill="none" stroke="#FFB3B3" stroke-width="2.4"/>
<ellipse cx="1540.8" cy="1927" rx="249.5" ry="124.1" transform="rotate(159.99 1540.8 1927)" fill="none" stroke="#6EC6EA" stroke-width="2.4"/>
<ellipse cx="1611.5" cy="1911.7" rx="223.2" ry="113.9" transform="rotate(155.49 1611.5 1911.7)" fill="none" stroke="#990000" stroke-width="2.4"/>
<ellipse cx="1481.2" cy="1920" rx="201.8" ry="85.6" transform="rotate(-147.13 1481.2 1920)" fill="none" stroke="#0B4F71" stroke-width="2.4"/>
<ellipse cx="1350" cy="1754" rx="162.7" ry="43.9" transform="rotate(56.98 1350 1754)" fill="none" stroke="#999999" stroke-width="2.4"/>
<rect x="1182.5" y="1593" width="666.5" height="512.7" fill="none" stroke="#333" stroke-width="1.4"/>
<path d="M1202 2105.7V2112M1365.5 2105.7V2112M1529.5 2105.7V2112M1693.5 2105.7V2112M1176.2 1601H1182.5M1176.2 1753H1182.5M1176.2 1904.5H1182.5M1176.2 2056.5H1182.5" stroke="#111" stroke-width="2" fill="none"/>
<text transform="translate(1202 2145.2)" font-size="29" text-anchor="middle">−0.6</text>
<text transform="translate(1365.5 2145.2)" font-size="29" text-anchor="middle">−0.3</text>
<text transform="translate(1529.5 2145.2)" font-size="29" text-anchor="middle">0.0</text>
<text transform="translate(1693.5 2145.2)" font-size="29" text-anchor="middle">0.3</text>
<text transform="translate(1164 1611.3)" font-size="29" text-anchor="end">0.50</text>
<text transform="translate(1164 1763.3)" font-size="29" text-anchor="end">0.25</text>
<text transform="translate(1164 1914.8)" font-size="29" text-anchor="end">0.00</text>
<text transform="translate(1164 2066.8)" font-size="29" text-anchor="end">−0.25</text>
<text transform="translate(1515 2187.5)" font-size="29" text-anchor="middle">PC1 (21%)</text>
<text transform="translate(1066 1853.5) rotate(-90)" font-size="29" text-anchor="middle">PC3 (7%)</text>
<path d="M1285.7 1588.9C1287.1 1588.4 1291.4 1588.3 1294.2 1586.0C1297.1 1583.7 1299.6 1581.6 1302.7 1575.2C1305.8 1568.8 1309.5 1557.8 1312.8 1547.4C1316.2 1537.1 1319.9 1521.5 1323.0 1513.2C1326.1 1504.8 1329.1 1500.4 1331.5 1497.3C1333.8 1494.2 1335.0 1494.4 1336.9 1494.4C1338.8 1494.4 1340.2 1493.9 1342.7 1497.3C1345.2 1500.7 1348.7 1507.8 1352.0 1515.0C1355.3 1522.1 1359.0 1533.0 1362.5 1540.2C1366.0 1547.4 1369.9 1553.7 1373.2 1558.2C1376.4 1562.8 1378.8 1564.7 1382.2 1567.3C1385.5 1569.8 1388.8 1572.2 1393.2 1573.4C1397.5 1574.6 1402.4 1574.7 1408.0 1574.5C1413.7 1574.3 1421.3 1572.2 1427.0 1572.3C1432.7 1572.4 1436.5 1573.2 1442.3 1575.2C1448.0 1577.2 1454.4 1582.4 1461.4 1584.6C1468.4 1586.7 1474.2 1587.5 1484.3 1588.2C1494.3 1588.8 1509.4 1588.9 1521.7 1588.5C1534.1 1588.2 1549.3 1587.6 1558.4 1586.0C1567.5 1584.4 1571.7 1580.2 1576.6 1578.8C1581.4 1577.4 1583.8 1577.3 1587.4 1577.4C1591.0 1577.4 1594.1 1577.7 1598.3 1579.2C1602.5 1580.6 1606.7 1584.5 1612.7 1586.0C1618.7 1587.6 1628.4 1588.1 1634.4 1588.5C1640.4 1589.0 1646.4 1588.8 1648.8 1588.9L1648.8 1588.9L1285.7 1588.9Z" fill="#999999" fill-opacity="0.5" stroke="none"/>
<path d="M1212.9 1588.9C1225.0 1588.8 1266.2 1588.7 1285.7 1588.2C1305.2 1587.7 1318.4 1587.4 1329.8 1586.0C1341.1 1584.6 1346.2 1582.4 1353.8 1579.9C1361.3 1577.4 1367.8 1574.1 1375.0 1570.9C1382.1 1567.7 1390.1 1563.2 1396.8 1560.8C1403.6 1558.3 1410.2 1557.0 1415.6 1556.1C1420.9 1555.1 1423.8 1554.9 1428.9 1555.0C1434.0 1555.1 1439.4 1555.3 1446.1 1556.4C1452.8 1557.6 1461.5 1560.4 1469.1 1561.9C1476.7 1563.4 1484.3 1565.0 1491.9 1565.5C1499.4 1565.9 1507.5 1565.0 1514.3 1564.4C1521.1 1563.7 1527.6 1562.1 1532.8 1561.5C1538.0 1560.9 1540.8 1560.7 1545.6 1560.8C1550.5 1560.9 1556.3 1561.3 1562.0 1562.2C1567.8 1563.2 1573.5 1564.5 1580.2 1566.5C1586.8 1568.6 1594.7 1572.0 1601.9 1574.5C1609.1 1577.0 1615.7 1579.8 1623.6 1581.7C1631.4 1583.6 1638.6 1585.1 1648.8 1586.0C1659.0 1587.0 1666.8 1587.2 1684.9 1587.5C1702.9 1587.8 1734.5 1587.7 1757.0 1587.8C1779.5 1587.9 1809.6 1588.1 1820.1 1588.2L1820.1 1588.9L1212.9 1588.9Z" fill="#0B4F71" fill-opacity="0.5" stroke="none"/>
<path d="M1212.9 1588.9C1225.0 1588.9 1267.0 1589.0 1285.7 1588.9C1304.4 1588.8 1313.7 1588.9 1325.0 1588.2C1336.4 1587.5 1344.1 1586.0 1353.8 1584.6C1363.4 1583.2 1373.9 1581.7 1382.9 1579.9C1391.9 1578.1 1400.7 1575.4 1408.0 1573.8C1415.4 1572.1 1420.6 1571.0 1427.0 1569.8C1433.3 1568.6 1439.1 1567.4 1446.1 1566.5C1453.1 1565.7 1461.5 1565.1 1469.1 1564.7C1476.7 1564.4 1483.1 1564.4 1491.9 1564.4C1500.6 1564.4 1510.6 1564.6 1521.7 1564.7C1532.8 1564.9 1548.1 1565.0 1558.4 1565.5C1568.7 1565.9 1574.8 1566.4 1583.8 1567.3C1592.9 1568.1 1601.9 1569.3 1612.7 1570.5C1623.6 1571.7 1636.8 1573.2 1648.8 1574.5C1660.8 1575.7 1672.8 1577.0 1684.9 1578.1C1696.9 1579.2 1708.9 1580.1 1720.9 1581.0C1733.0 1581.9 1745.0 1582.7 1757.0 1583.5C1769.0 1584.3 1782.5 1585.1 1793.1 1585.7C1803.6 1586.3 1815.6 1586.9 1820.1 1587.1L1820.1 1588.9L1212.9 1588.9Z" fill="#6EC6EA" fill-opacity="0.5" stroke="none"/>
<path d="M1212.9 1588.9C1225.0 1588.5 1265.1 1587.5 1285.7 1586.7C1306.3 1586.0 1319.3 1585.3 1336.6 1584.6C1353.9 1583.9 1371.2 1583.3 1389.5 1582.4C1407.7 1581.6 1427.2 1580.5 1446.1 1579.5C1465.1 1578.5 1487.5 1577.2 1503.1 1576.3C1518.8 1575.4 1527.9 1575.1 1540.1 1574.1C1552.4 1573.1 1565.7 1571.9 1576.6 1570.1C1587.5 1568.4 1597.1 1565.5 1605.5 1563.7C1613.9 1561.9 1620.8 1560.2 1627.2 1559.3C1633.5 1558.4 1638.0 1558.3 1643.4 1558.2C1648.8 1558.2 1652.7 1558.2 1659.6 1559.0C1666.5 1559.7 1676.5 1561.3 1684.9 1562.9C1693.3 1564.6 1701.1 1566.8 1710.1 1569.1C1719.1 1571.3 1729.9 1574.3 1739.0 1576.3C1748.0 1578.3 1755.2 1579.6 1764.2 1581.0C1773.2 1582.3 1783.7 1583.6 1793.1 1584.6C1802.4 1585.6 1815.6 1586.7 1820.1 1587.1L1820.1 1588.9L1212.9 1588.9Z" fill="#990000" fill-opacity="0.5" stroke="none"/>
<path d="M1212.9 1588.2C1219.3 1587.7 1239.0 1586.5 1251.1 1585.3C1263.3 1584.1 1274.3 1582.5 1285.7 1581.0C1297.1 1579.5 1309.4 1577.8 1319.6 1576.3C1329.8 1574.8 1338.2 1573.2 1346.8 1572.0C1355.5 1570.7 1364.3 1569.4 1371.4 1568.7C1378.5 1568.0 1383.4 1568.0 1389.5 1568.0C1395.6 1568.0 1400.5 1568.2 1408.0 1568.7C1415.6 1569.2 1425.1 1570.1 1434.6 1570.9C1444.2 1571.6 1453.8 1572.4 1465.3 1573.0C1476.7 1573.6 1490.6 1574.2 1503.1 1574.5C1515.6 1574.8 1527.9 1574.8 1540.1 1574.8C1552.4 1574.9 1564.5 1574.9 1576.6 1574.8C1588.7 1574.8 1600.7 1574.5 1612.7 1574.5C1624.8 1574.4 1636.8 1574.4 1648.8 1574.5C1660.8 1574.6 1672.8 1574.8 1684.9 1575.2C1696.9 1575.6 1708.9 1576.1 1720.9 1576.6C1733.0 1577.2 1745.0 1577.5 1757.0 1578.4C1769.0 1579.4 1782.5 1581.1 1793.1 1582.4C1803.6 1583.7 1815.6 1585.4 1820.1 1586.0L1820.1 1588.9L1212.9 1588.9Z" fill="#FFB3B3" fill-opacity="0.5" stroke="none"/>
<path d="M1212.9 1587.5C1219.3 1587.2 1237.6 1586.7 1251.1 1586.0C1264.7 1585.3 1280.0 1584.1 1294.2 1583.1C1308.5 1582.2 1320.7 1581.2 1336.6 1580.2C1352.4 1579.3 1371.2 1578.1 1389.5 1577.4C1407.7 1576.6 1427.2 1576.0 1446.1 1575.6C1465.1 1575.1 1484.4 1575.0 1503.1 1574.8C1521.8 1574.7 1540.1 1574.7 1558.4 1574.8C1576.7 1575.0 1594.6 1575.2 1612.7 1575.6C1630.8 1575.9 1648.8 1576.5 1666.8 1577.0C1684.9 1577.5 1702.9 1578.1 1720.9 1578.8C1739.0 1579.5 1758.5 1580.5 1775.0 1581.3C1791.6 1582.2 1812.6 1583.4 1820.1 1583.9L1820.1 1588.9L1212.9 1588.9Z" fill="#999999" fill-opacity="0.5" stroke="none"/>
<path d="M1285.7 1588.9C1287.1 1588.4 1291.4 1588.3 1294.2 1586.0C1297.1 1583.7 1299.6 1581.6 1302.7 1575.2C1305.8 1568.8 1309.5 1557.8 1312.8 1547.4C1316.2 1537.1 1319.9 1521.5 1323.0 1513.2C1326.1 1504.8 1329.1 1500.4 1331.5 1497.3C1333.8 1494.2 1335.0 1494.4 1336.9 1494.4C1338.8 1494.4 1340.2 1493.9 1342.7 1497.3C1345.2 1500.7 1348.7 1507.8 1352.0 1515.0C1355.3 1522.1 1359.0 1533.0 1362.5 1540.2C1366.0 1547.4 1369.9 1553.7 1373.2 1558.2C1376.4 1562.8 1378.8 1564.7 1382.2 1567.3C1385.5 1569.8 1388.8 1572.2 1393.2 1573.4C1397.5 1574.6 1402.4 1574.7 1408.0 1574.5C1413.7 1574.3 1421.3 1572.2 1427.0 1572.3C1432.7 1572.4 1436.5 1573.2 1442.3 1575.2C1448.0 1577.2 1454.4 1582.4 1461.4 1584.6C1468.4 1586.7 1474.2 1587.5 1484.3 1588.2C1494.3 1588.8 1509.4 1588.9 1521.7 1588.5C1534.1 1588.2 1549.3 1587.6 1558.4 1586.0C1567.5 1584.4 1571.7 1580.2 1576.6 1578.8C1581.4 1577.4 1583.8 1577.3 1587.4 1577.4C1591.0 1577.4 1594.1 1577.7 1598.3 1579.2C1602.5 1580.6 1606.7 1584.5 1612.7 1586.0C1618.7 1587.6 1628.4 1588.1 1634.4 1588.5C1640.4 1589.0 1646.4 1588.8 1648.8 1588.9" fill="none" stroke="#999999" stroke-width="2"/>
<path d="M1212.9 1588.9C1225.0 1588.8 1266.2 1588.7 1285.7 1588.2C1305.2 1587.7 1318.4 1587.4 1329.8 1586.0C1341.1 1584.6 1346.2 1582.4 1353.8 1579.9C1361.3 1577.4 1367.8 1574.1 1375.0 1570.9C1382.1 1567.7 1390.1 1563.2 1396.8 1560.8C1403.6 1558.3 1410.2 1557.0 1415.6 1556.1C1420.9 1555.1 1423.8 1554.9 1428.9 1555.0C1434.0 1555.1 1439.4 1555.3 1446.1 1556.4C1452.8 1557.6 1461.5 1560.4 1469.1 1561.9C1476.7 1563.4 1484.3 1565.0 1491.9 1565.5C1499.4 1565.9 1507.5 1565.0 1514.3 1564.4C1521.1 1563.7 1527.6 1562.1 1532.8 1561.5C1538.0 1560.9 1540.8 1560.7 1545.6 1560.8C1550.5 1560.9 1556.3 1561.3 1562.0 1562.2C1567.8 1563.2 1573.5 1564.5 1580.2 1566.5C1586.8 1568.6 1594.7 1572.0 1601.9 1574.5C1609.1 1577.0 1615.7 1579.8 1623.6 1581.7C1631.4 1583.6 1638.6 1585.1 1648.8 1586.0C1659.0 1587.0 1666.8 1587.2 1684.9 1587.5C1702.9 1587.8 1734.5 1587.7 1757.0 1587.8C1779.5 1587.9 1809.6 1588.1 1820.1 1588.2" fill="none" stroke="#0B4F71" stroke-width="2"/>
<path d="M1212.9 1588.9C1225.0 1588.9 1267.0 1589.0 1285.7 1588.9C1304.4 1588.8 1313.7 1588.9 1325.0 1588.2C1336.4 1587.5 1344.1 1586.0 1353.8 1584.6C1363.4 1583.2 1373.9 1581.7 1382.9 1579.9C1391.9 1578.1 1400.7 1575.4 1408.0 1573.8C1415.4 1572.1 1420.6 1571.0 1427.0 1569.8C1433.3 1568.6 1439.1 1567.4 1446.1 1566.5C1453.1 1565.7 1461.5 1565.1 1469.1 1564.7C1476.7 1564.4 1483.1 1564.4 1491.9 1564.4C1500.6 1564.4 1510.6 1564.6 1521.7 1564.7C1532.8 1564.9 1548.1 1565.0 1558.4 1565.5C1568.7 1565.9 1574.8 1566.4 1583.8 1567.3C1592.9 1568.1 1601.9 1569.3 1612.7 1570.5C1623.6 1571.7 1636.8 1573.2 1648.8 1574.5C1660.8 1575.7 1672.8 1577.0 1684.9 1578.1C1696.9 1579.2 1708.9 1580.1 1720.9 1581.0C1733.0 1581.9 1745.0 1582.7 1757.0 1583.5C1769.0 1584.3 1782.5 1585.1 1793.1 1585.7C1803.6 1586.3 1815.6 1586.9 1820.1 1587.1" fill="none" stroke="#6EC6EA" stroke-width="2"/>
<path d="M1212.9 1588.9C1225.0 1588.5 1265.1 1587.5 1285.7 1586.7C1306.3 1586.0 1319.3 1585.3 1336.6 1584.6C1353.9 1583.9 1371.2 1583.3 1389.5 1582.4C1407.7 1581.6 1427.2 1580.5 1446.1 1579.5C1465.1 1578.5 1487.5 1577.2 1503.1 1576.3C1518.8 1575.4 1527.9 1575.1 1540.1 1574.1C1552.4 1573.1 1565.7 1571.9 1576.6 1570.1C1587.5 1568.4 1597.1 1565.5 1605.5 1563.7C1613.9 1561.9 1620.8 1560.2 1627.2 1559.3C1633.5 1558.4 1638.0 1558.3 1643.4 1558.2C1648.8 1558.2 1652.7 1558.2 1659.6 1559.0C1666.5 1559.7 1676.5 1561.3 1684.9 1562.9C1693.3 1564.6 1701.1 1566.8 1710.1 1569.1C1719.1 1571.3 1729.9 1574.3 1739.0 1576.3C1748.0 1578.3 1755.2 1579.6 1764.2 1581.0C1773.2 1582.3 1783.7 1583.6 1793.1 1584.6C1802.4 1585.6 1815.6 1586.7 1820.1 1587.1" fill="none" stroke="#990000" stroke-width="2"/>
<path d="M1212.9 1588.2C1219.3 1587.7 1239.0 1586.5 1251.1 1585.3C1263.3 1584.1 1274.3 1582.5 1285.7 1581.0C1297.1 1579.5 1309.4 1577.8 1319.6 1576.3C1329.8 1574.8 1338.2 1573.2 1346.8 1572.0C1355.5 1570.7 1364.3 1569.4 1371.4 1568.7C1378.5 1568.0 1383.4 1568.0 1389.5 1568.0C1395.6 1568.0 1400.5 1568.2 1408.0 1568.7C1415.6 1569.2 1425.1 1570.1 1434.6 1570.9C1444.2 1571.6 1453.8 1572.4 1465.3 1573.0C1476.7 1573.6 1490.6 1574.2 1503.1 1574.5C1515.6 1574.8 1527.9 1574.8 1540.1 1574.8C1552.4 1574.9 1564.5 1574.9 1576.6 1574.8C1588.7 1574.8 1600.7 1574.5 1612.7 1574.5C1624.8 1574.4 1636.8 1574.4 1648.8 1574.5C1660.8 1574.6 1672.8 1574.8 1684.9 1575.2C1696.9 1575.6 1708.9 1576.1 1720.9 1576.6C1733.0 1577.2 1745.0 1577.5 1757.0 1578.4C1769.0 1579.4 1782.5 1581.1 1793.1 1582.4C1803.6 1583.7 1815.6 1585.4 1820.1 1586.0" fill="none" stroke="#FFB3B3" stroke-width="2"/>
<path d="M1212.9 1587.5C1219.3 1587.2 1237.6 1586.7 1251.1 1586.0C1264.7 1585.3 1280.0 1584.1 1294.2 1583.1C1308.5 1582.2 1320.7 1581.2 1336.6 1580.2C1352.4 1579.3 1371.2 1578.1 1389.5 1577.4C1407.7 1576.6 1427.2 1576.0 1446.1 1575.6C1465.1 1575.1 1484.4 1575.0 1503.1 1574.8C1521.8 1574.7 1540.1 1574.7 1558.4 1574.8C1576.7 1575.0 1594.6 1575.2 1612.7 1575.6C1630.8 1575.9 1648.8 1576.5 1666.8 1577.0C1684.9 1577.5 1702.9 1578.1 1720.9 1578.8C1739.0 1579.5 1758.5 1580.5 1775.0 1581.3C1791.6 1582.2 1812.6 1583.4 1820.1 1583.9" fill="none" stroke="#999999" stroke-width="2"/>
<path d="M1856.3 1616.3C1856.9 1616.3 1858.9 1614.5 1860.1 1616.3C1861.2 1618.2 1861.8 1624.1 1863.1 1627.7C1864.3 1631.2 1863.9 1632.3 1867.6 1637.7C1871.3 1643.2 1878.1 1652.4 1885.2 1660.4C1892.3 1668.3 1902.8 1677.1 1910.4 1685.5C1917.9 1693.9 1925.8 1704.0 1930.5 1710.7C1935.2 1717.4 1936.9 1721.6 1938.5 1725.8C1940.2 1729.9 1940.4 1732.5 1940.6 1735.8C1940.7 1739.2 1940.1 1742.5 1939.3 1745.9C1938.5 1749.2 1938.7 1750.9 1935.5 1755.9C1932.4 1761.0 1925.9 1769.3 1920.4 1776.1C1915.0 1782.8 1907.2 1789.9 1902.8 1796.2C1898.4 1802.5 1896.1 1806.7 1894.0 1813.8C1891.9 1820.9 1890.9 1830.5 1890.3 1838.9C1889.6 1847.3 1890.7 1856.5 1890.3 1864.1C1889.8 1871.6 1889.4 1875.8 1887.7 1884.2C1886.1 1892.6 1883.1 1903.1 1880.2 1914.4C1877.3 1925.7 1873.1 1941.6 1870.1 1952.1C1867.2 1962.6 1864.5 1966.8 1862.6 1977.3C1860.7 1987.7 1859.9 1998.2 1858.8 2015.0C1857.8 2031.8 1856.7 2067.4 1856.3 2077.9L1856.3 2077.9L1856.3 1616.3Z" fill="#999999" fill-opacity="0.5" stroke="none"/>
<path d="M1856.3 1750.9C1856.5 1755.1 1856.1 1767.7 1857.6 1776.1C1859.0 1784.4 1861.3 1793.7 1865.1 1801.2C1868.9 1808.8 1873.9 1815.0 1880.2 1821.3C1886.5 1827.6 1894.9 1833.5 1902.8 1838.9C1910.8 1844.4 1921.3 1849.4 1928.0 1854.0C1934.7 1858.6 1939.7 1862.0 1943.1 1866.6C1946.4 1871.2 1947.7 1876.7 1948.1 1881.7C1948.5 1886.7 1947.3 1891.3 1945.6 1896.8C1943.9 1902.2 1939.9 1908.1 1938.0 1914.4C1936.2 1920.7 1934.9 1928.2 1934.3 1934.5C1933.6 1940.8 1935.1 1946.7 1934.3 1952.1C1933.4 1957.6 1932.4 1961.3 1929.2 1967.2C1926.1 1973.1 1921.1 1980.6 1915.4 1987.3C1909.7 1994.0 1901.6 2000.7 1895.3 2007.4C1889.0 2014.2 1882.7 2020.4 1877.7 2027.6C1872.6 2034.7 1868.2 2043.1 1865.1 2050.2C1862.0 2057.3 1860.3 2064.9 1858.8 2070.3C1857.3 2075.8 1856.7 2080.8 1856.3 2082.9L1856.3 2082.9L1856.3 1750.9Z" fill="#0B4F71" fill-opacity="0.5" stroke="none"/>
<path d="M1856.3 1725.8C1856.9 1729.9 1857.8 1742.5 1860.1 1750.9C1862.4 1759.3 1866.4 1768.1 1870.1 1776.1C1873.9 1784.0 1878.5 1791.6 1882.7 1798.7C1886.9 1805.8 1891.5 1812.1 1895.3 1818.8C1899.1 1825.5 1902.8 1832.2 1905.3 1838.9C1907.9 1845.6 1909.3 1852.8 1910.4 1859.1C1911.4 1865.3 1910.8 1870.4 1911.6 1876.7C1912.5 1882.9 1912.7 1890.1 1915.4 1896.8C1918.1 1903.5 1923.4 1910.6 1928.0 1916.9C1932.6 1923.2 1939.1 1928.6 1943.1 1934.5C1947.1 1940.4 1951.0 1946.7 1951.9 1952.1C1952.7 1957.6 1950.8 1962.2 1948.1 1967.2C1945.4 1972.2 1941.0 1977.3 1935.5 1982.3C1930.1 1987.3 1922.1 1992.4 1915.4 1997.4C1908.7 2002.4 1901.6 2006.6 1895.3 2012.5C1889.0 2018.3 1882.7 2025.9 1877.7 2032.6C1872.6 2039.3 1868.5 2045.2 1865.1 2052.7C1861.7 2060.3 1858.8 2073.7 1857.6 2077.9L1856.3 2077.9L1856.3 1725.8Z" fill="#6EC6EA" fill-opacity="0.5" stroke="none"/>
<path d="M1856.3 1700.6C1856.9 1705.6 1857.3 1721.6 1860.1 1730.8C1862.8 1740.0 1868.0 1748.4 1872.6 1755.9C1877.3 1763.5 1884.2 1769.8 1887.7 1776.1C1891.3 1782.3 1893.0 1788.2 1894.0 1793.7C1895.1 1799.1 1894.9 1803.3 1894.0 1808.8C1893.2 1814.2 1890.0 1820.9 1889.0 1826.4C1887.9 1831.8 1887.1 1836.4 1887.7 1841.4C1888.4 1846.5 1889.0 1851.1 1892.8 1856.5C1896.5 1862.0 1903.7 1868.3 1910.4 1874.1C1917.1 1880.0 1927.1 1886.3 1933.0 1891.8C1938.9 1897.2 1942.8 1901.4 1945.6 1906.8C1948.4 1912.3 1949.7 1918.6 1949.9 1924.4C1950.1 1930.3 1949.2 1935.8 1946.8 1942.1C1944.5 1948.3 1940.8 1955.5 1935.5 1962.2C1930.3 1968.9 1922.9 1975.6 1915.4 1982.3C1907.9 1989.0 1897.8 1995.3 1890.3 2002.4C1882.7 2009.5 1875.2 2017.5 1870.1 2025.1C1865.1 2032.6 1862.4 2038.9 1860.1 2047.7C1857.8 2056.5 1856.9 2072.8 1856.3 2077.9L1856.3 2077.9L1856.3 1700.6Z" fill="#990000" fill-opacity="0.5" stroke="none"/>
<path d="M1856.3 1725.8C1856.7 1730.8 1856.9 1746.7 1858.8 1755.9C1860.7 1765.2 1864.5 1774.0 1867.6 1781.1C1870.8 1788.2 1875.2 1792.8 1877.7 1798.7C1880.2 1804.6 1882.1 1810.4 1882.7 1816.3C1883.3 1822.2 1881.2 1827.2 1881.5 1833.9C1881.7 1840.6 1882.9 1849.4 1884.0 1856.5C1885.0 1863.7 1885.4 1870.4 1887.7 1876.7C1890.0 1882.9 1893.2 1888.4 1897.8 1894.3C1902.4 1900.1 1908.7 1906.0 1915.4 1911.9C1922.1 1917.7 1931.3 1924.0 1938.0 1929.5C1944.7 1934.9 1951.0 1939.5 1955.6 1944.6C1960.3 1949.6 1963.7 1955.5 1965.7 1959.7C1967.7 1963.8 1968.3 1965.5 1967.5 1969.7C1966.6 1973.9 1964.7 1980.2 1960.7 1984.8C1956.6 1989.4 1950.6 1992.8 1943.1 1997.4C1935.5 2002.0 1924.2 2007.4 1915.4 2012.5C1906.6 2017.5 1897.0 2022.1 1890.3 2027.6C1883.5 2033.0 1879.4 2038.9 1875.2 2045.2C1871.0 2051.5 1867.6 2059.0 1865.1 2065.3C1862.6 2071.6 1860.9 2080.0 1860.1 2082.9L1856.3 2082.9L1856.3 1725.8Z" fill="#FFB3B3" fill-opacity="0.5" stroke="none"/>
<path d="M1856.3 1750.9C1856.6 1755.1 1857.4 1770.2 1858.1 1776.1C1858.7 1781.9 1857.6 1781.1 1860.1 1786.1C1862.5 1791.1 1867.2 1800.8 1872.6 1806.2C1878.1 1811.7 1884.4 1814.6 1892.8 1818.8C1901.2 1823.0 1912.9 1827.2 1922.9 1831.4C1933.0 1835.6 1944.7 1839.8 1953.1 1844.0C1961.5 1848.2 1969.1 1852.8 1973.3 1856.5C1977.4 1860.3 1977.9 1863.9 1978.3 1866.6C1978.7 1869.3 1977.0 1871.2 1975.8 1872.9C1974.5 1874.6 1975.3 1873.9 1970.7 1876.7C1966.1 1879.4 1956.1 1885.5 1948.1 1889.2C1940.1 1893.0 1930.5 1895.5 1922.9 1899.3C1915.4 1903.1 1907.6 1907.7 1902.8 1911.9C1898.0 1916.1 1895.5 1920.3 1894.0 1924.4C1892.6 1928.6 1892.6 1932.4 1894.0 1937.0C1895.5 1941.6 1899.3 1947.1 1902.8 1952.1C1906.4 1957.1 1912.8 1963.0 1915.4 1967.2C1918.0 1971.4 1918.8 1973.5 1918.4 1977.3C1918.0 1981.0 1916.3 1985.6 1912.9 1989.8C1909.5 1994.0 1903.2 1997.4 1897.8 2002.4C1892.3 2007.4 1885.6 2013.3 1880.2 2020.0C1874.7 2026.7 1868.7 2035.1 1865.1 2042.7C1861.5 2050.2 1860.3 2058.6 1858.8 2065.3C1857.3 2072.0 1856.7 2080.0 1856.3 2082.9L1856.3 2082.9L1856.3 1750.9Z" fill="#999999" fill-opacity="0.5" stroke="none"/>
<path d="M1856.3 1616.3C1856.9 1616.3 1858.9 1614.5 1860.1 1616.3C1861.2 1618.2 1861.8 1624.1 1863.1 1627.7C1864.3 1631.2 1863.9 1632.3 1867.6 1637.7C1871.3 1643.2 1878.1 1652.4 1885.2 1660.4C1892.3 1668.3 1902.8 1677.1 1910.4 1685.5C1917.9 1693.9 1925.8 1704.0 1930.5 1710.7C1935.2 1717.4 1936.9 1721.6 1938.5 1725.8C1940.2 1729.9 1940.4 1732.5 1940.6 1735.8C1940.7 1739.2 1940.1 1742.5 1939.3 1745.9C1938.5 1749.2 1938.7 1750.9 1935.5 1755.9C1932.4 1761.0 1925.9 1769.3 1920.4 1776.1C1915.0 1782.8 1907.2 1789.9 1902.8 1796.2C1898.4 1802.5 1896.1 1806.7 1894.0 1813.8C1891.9 1820.9 1890.9 1830.5 1890.3 1838.9C1889.6 1847.3 1890.7 1856.5 1890.3 1864.1C1889.8 1871.6 1889.4 1875.8 1887.7 1884.2C1886.1 1892.6 1883.1 1903.1 1880.2 1914.4C1877.3 1925.7 1873.1 1941.6 1870.1 1952.1C1867.2 1962.6 1864.5 1966.8 1862.6 1977.3C1860.7 1987.7 1859.9 1998.2 1858.8 2015.0C1857.8 2031.8 1856.7 2067.4 1856.3 2077.9" fill="none" stroke="#999999" stroke-width="2"/>
<path d="M1856.3 1750.9C1856.5 1755.1 1856.1 1767.7 1857.6 1776.1C1859.0 1784.4 1861.3 1793.7 1865.1 1801.2C1868.9 1808.8 1873.9 1815.0 1880.2 1821.3C1886.5 1827.6 1894.9 1833.5 1902.8 1838.9C1910.8 1844.4 1921.3 1849.4 1928.0 1854.0C1934.7 1858.6 1939.7 1862.0 1943.1 1866.6C1946.4 1871.2 1947.7 1876.7 1948.1 1881.7C1948.5 1886.7 1947.3 1891.3 1945.6 1896.8C1943.9 1902.2 1939.9 1908.1 1938.0 1914.4C1936.2 1920.7 1934.9 1928.2 1934.3 1934.5C1933.6 1940.8 1935.1 1946.7 1934.3 1952.1C1933.4 1957.6 1932.4 1961.3 1929.2 1967.2C1926.1 1973.1 1921.1 1980.6 1915.4 1987.3C1909.7 1994.0 1901.6 2000.7 1895.3 2007.4C1889.0 2014.2 1882.7 2020.4 1877.7 2027.6C1872.6 2034.7 1868.2 2043.1 1865.1 2050.2C1862.0 2057.3 1860.3 2064.9 1858.8 2070.3C1857.3 2075.8 1856.7 2080.8 1856.3 2082.9" fill="none" stroke="#0B4F71" stroke-width="2"/>
<path d="M1856.3 1725.8C1856.9 1729.9 1857.8 1742.5 1860.1 1750.9C1862.4 1759.3 1866.4 1768.1 1870.1 1776.1C1873.9 1784.0 1878.5 1791.6 1882.7 1798.7C1886.9 1805.8 1891.5 1812.1 1895.3 1818.8C1899.1 1825.5 1902.8 1832.2 1905.3 1838.9C1907.9 1845.6 1909.3 1852.8 1910.4 1859.1C1911.4 1865.3 1910.8 1870.4 1911.6 1876.7C1912.5 1882.9 1912.7 1890.1 1915.4 1896.8C1918.1 1903.5 1923.4 1910.6 1928.0 1916.9C1932.6 1923.2 1939.1 1928.6 1943.1 1934.5C1947.1 1940.4 1951.0 1946.7 1951.9 1952.1C1952.7 1957.6 1950.8 1962.2 1948.1 1967.2C1945.4 1972.2 1941.0 1977.3 1935.5 1982.3C1930.1 1987.3 1922.1 1992.4 1915.4 1997.4C1908.7 2002.4 1901.6 2006.6 1895.3 2012.5C1889.0 2018.3 1882.7 2025.9 1877.7 2032.6C1872.6 2039.3 1868.5 2045.2 1865.1 2052.7C1861.7 2060.3 1858.8 2073.7 1857.6 2077.9" fill="none" stroke="#6EC6EA" stroke-width="2"/>
<path d="M1856.3 1700.6C1856.9 1705.6 1857.3 1721.6 1860.1 1730.8C1862.8 1740.0 1868.0 1748.4 1872.6 1755.9C1877.3 1763.5 1884.2 1769.8 1887.7 1776.1C1891.3 1782.3 1893.0 1788.2 1894.0 1793.7C1895.1 1799.1 1894.9 1803.3 1894.0 1808.8C1893.2 1814.2 1890.0 1820.9 1889.0 1826.4C1887.9 1831.8 1887.1 1836.4 1887.7 1841.4C1888.4 1846.5 1889.0 1851.1 1892.8 1856.5C1896.5 1862.0 1903.7 1868.3 1910.4 1874.1C1917.1 1880.0 1927.1 1886.3 1933.0 1891.8C1938.9 1897.2 1942.8 1901.4 1945.6 1906.8C1948.4 1912.3 1949.7 1918.6 1949.9 1924.4C1950.1 1930.3 1949.2 1935.8 1946.8 1942.1C1944.5 1948.3 1940.8 1955.5 1935.5 1962.2C1930.3 1968.9 1922.9 1975.6 1915.4 1982.3C1907.9 1989.0 1897.8 1995.3 1890.3 2002.4C1882.7 2009.5 1875.2 2017.5 1870.1 2025.1C1865.1 2032.6 1862.4 2038.9 1860.1 2047.7C1857.8 2056.5 1856.9 2072.8 1856.3 2077.9" fill="none" stroke="#990000" stroke-width="2"/>
<path d="M1856.3 1725.8C1856.7 1730.8 1856.9 1746.7 1858.8 1755.9C1860.7 1765.2 1864.5 1774.0 1867.6 1781.1C1870.8 1788.2 1875.2 1792.8 1877.7 1798.7C1880.2 1804.6 1882.1 1810.4 1882.7 1816.3C1883.3 1822.2 1881.2 1827.2 1881.5 1833.9C1881.7 1840.6 1882.9 1849.4 1884.0 1856.5C1885.0 1863.7 1885.4 1870.4 1887.7 1876.7C1890.0 1882.9 1893.2 1888.4 1897.8 1894.3C1902.4 1900.1 1908.7 1906.0 1915.4 1911.9C1922.1 1917.7 1931.3 1924.0 1938.0 1929.5C1944.7 1934.9 1951.0 1939.5 1955.6 1944.6C1960.3 1949.6 1963.7 1955.5 1965.7 1959.7C1967.7 1963.8 1968.3 1965.5 1967.5 1969.7C1966.6 1973.9 1964.7 1980.2 1960.7 1984.8C1956.6 1989.4 1950.6 1992.8 1943.1 1997.4C1935.5 2002.0 1924.2 2007.4 1915.4 2012.5C1906.6 2017.5 1897.0 2022.1 1890.3 2027.6C1883.5 2033.0 1879.4 2038.9 1875.2 2045.2C1871.0 2051.5 1867.6 2059.0 1865.1 2065.3C1862.6 2071.6 1860.9 2080.0 1860.1 2082.9" fill="none" stroke="#FFB3B3" stroke-width="2"/>
<path d="M1856.3 1750.9C1856.6 1755.1 1857.4 1770.2 1858.1 1776.1C1858.7 1781.9 1857.6 1781.1 1860.1 1786.1C1862.5 1791.1 1867.2 1800.8 1872.6 1806.2C1878.1 1811.7 1884.4 1814.6 1892.8 1818.8C1901.2 1823.0 1912.9 1827.2 1922.9 1831.4C1933.0 1835.6 1944.7 1839.8 1953.1 1844.0C1961.5 1848.2 1969.1 1852.8 1973.3 1856.5C1977.4 1860.3 1977.9 1863.9 1978.3 1866.6C1978.7 1869.3 1977.0 1871.2 1975.8 1872.9C1974.5 1874.6 1975.3 1873.9 1970.7 1876.7C1966.1 1879.4 1956.1 1885.5 1948.1 1889.2C1940.1 1893.0 1930.5 1895.5 1922.9 1899.3C1915.4 1903.1 1907.6 1907.7 1902.8 1911.9C1898.0 1916.1 1895.5 1920.3 1894.0 1924.4C1892.6 1928.6 1892.6 1932.4 1894.0 1937.0C1895.5 1941.6 1899.3 1947.1 1902.8 1952.1C1906.4 1957.1 1912.8 1963.0 1915.4 1967.2C1918.0 1971.4 1918.8 1973.5 1918.4 1977.3C1918.0 1981.0 1916.3 1985.6 1912.9 1989.8C1909.5 1994.0 1903.2 1997.4 1897.8 2002.4C1892.3 2007.4 1885.6 2013.3 1880.2 2020.0C1874.7 2026.7 1868.7 2035.1 1865.1 2042.7C1861.5 2050.2 1860.3 2058.6 1858.8 2065.3C1857.3 2072.0 1856.7 2080.0 1856.3 2082.9" fill="none" stroke="#999999" stroke-width="2"/>
<text transform="translate(1933.5 957)" font-size="25" text-anchor="start">Time point</text>
<path d="M1944 982.5H1973.2" stroke="#FFB3B3" stroke-width="2" fill="none"/>
<circle cx="1958.5" cy="982.5" r="6" fill="#FFB3B3"/>
<text transform="translate(1983 991.3)" font-size="24" text-anchor="start">PT1</text>
<path d="M1944 1022H1973.2" stroke="#990000" stroke-width="2" fill="none"/>
<circle cx="1958.5" cy="1022" r="6" fill="#990000"/>
<text transform="translate(1983 1030.8)" font-size="24" text-anchor="start">PT2</text>
<path d="M1944 1059.2H1973.2" stroke="#6EC6EA" stroke-width="2" fill="none"/>
<path d="M1958.5 1051l7 12h-14z" fill="#6EC6EA"/>
<text transform="translate(1983 1067.9)" font-size="24" text-anchor="start">FT1</text>
<path d="M1944 1098.9H1973.2" stroke="#0B4F71" stroke-width="2" fill="none"/>
<path d="M1958.5 1090.7l7 12h-14z" fill="#0B4F71"/>
<text transform="translate(1983 1107.3)" font-size="24" text-anchor="start">FT2</text>
<path d="M1944 1138.5H1973.2" stroke="#999999" stroke-width="2" fill="none"/>
<rect x="1953.2" y="1133.2" width="10.6" height="10.6" fill="#999999"/>
<text transform="translate(1983 1146.5)" font-size="24" text-anchor="start">Adult</text>
</svg>
</body></html>
